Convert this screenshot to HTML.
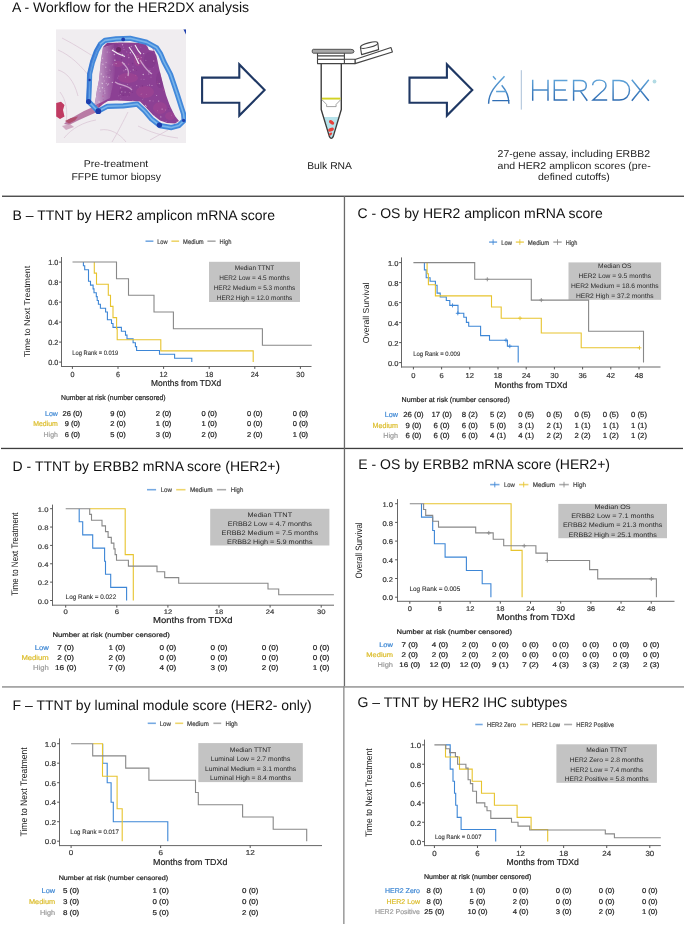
<!DOCTYPE html>
<html><head><meta charset="utf-8"><title>HER2DX figure</title>
<style>html,body{margin:0;padding:0;background:#fff;width:685px;height:925px;overflow:hidden;position:relative;font-family:"Liberation Sans",sans-serif}</style>
</head><body>
<svg width="685" height="925" viewBox="0 0 685 925" style="position:absolute;left:0;top:0;filter:blur(0.3px)" font-family="Liberation Sans, sans-serif" text-rendering="geometricPrecision">
<rect width="685" height="925" fill="#fff"/>
<rect x="2" y="195.6" width="682" height="1.3" fill="#3e3e3e"/>
<rect x="1" y="447.8" width="682" height="1.3" fill="#3e3e3e"/>
<rect x="2" y="686" width="682" height="1.8" fill="#a6a6a6"/>
<rect x="343.8" y="196" width="1.3" height="490" fill="#6a6a6a"/>
<rect x="343.2" y="686" width="1.3" height="238" fill="#8a8a8a"/>
<text x="12.00" y="12.20" font-size="14" fill="#111">A - Workflow for the HER2DX analysis</text>
<defs><filter id="bl1" x="-5%" y="-5%" width="110%" height="110%"><feGaussianBlur stdDeviation="0.7"/></filter><filter id="bl2" x="-5%" y="-5%" width="110%" height="110%"><feGaussianBlur stdDeviation="0.45"/></filter><clipPath id="bclip"><rect x="56" y="29.2" width="130" height="113.8"/></clipPath></defs>
<g clip-path="url(#bclip)">
<rect x="56" y="29.2" width="130" height="113.8" fill="#f0edf0"/>
<g filter="url(#bl1)" fill="none" stroke="#d9c3d3" stroke-width="0.7">
<path d="M58,50 C70,55 82,66 92,80"/>
<path d="M62,38 C74,44 86,52 96,58"/>
<path d="M64,138 C72,128 84,122 96,120"/>
<path d="M112,142 C118,132 124,120 128,112"/>
<path d="M60,92 C66,100 68,110 66,124"/>
<path d="M138,126 C150,132 162,136 178,138"/>
<path d="M58,70 C66,72 74,80 78,96"/>
<path d="M150,140 L168,130"/>
<path d="M100,130 C110,128 120,134 126,142"/>
</g>
<defs><clipPath id="tclip"><path d="M103,47 L107,43 L120,42.6 L134,42.8 L146,43.6 L150,46 L154,50 L156.5,56 L159,68 L162.5,82 L166,95 L170,106 L175,116 L179,121 L175,123.5 L167,123 L160,120.5 L153,115 L146.5,108 L140,101.5 L128,101 L116,100.6 L108,101 L103,104 L98,108.5 L94,107 L95.5,100 L97,90 L99,80 L100,70 L101,60 Z"/></clipPath></defs>
<g filter="url(#bl1)">
<path d="M103,47 L107,43 L120,42.6 L134,42.8 L146,43.6 L150,46 L154,50 L156.5,56 L159,68 L162.5,82 L166,95 L170,106 L175,116 L179,121 L175,123.5 L167,123 L160,120.5 L153,115 L146.5,108 L140,101.5 L128,101 L116,100.6 L108,101 L103,104 L98,108.5 L94,107 L95.5,100 L97,90 L99,80 L100,70 L101,60 Z" fill="#8c4094"/>
<g clip-path="url(#tclip)">
<ellipse cx="100" cy="104" rx="6" ry="4" fill="#a84890" opacity="0.45"/>
<ellipse cx="128" cy="78" rx="10" ry="5" fill="#a84890" opacity="0.45"/>
<ellipse cx="145" cy="92" rx="9" ry="6" fill="#a84890" opacity="0.45"/>
<ellipse cx="160" cy="108" rx="7" ry="6" fill="#a84890" opacity="0.45"/>
<ellipse cx="118" cy="64" rx="5" ry="3" fill="#a84890" opacity="0.45"/>
<ellipse cx="138" cy="60" rx="4" ry="6" fill="#a84890" opacity="0.45"/>
<ellipse cx="170" cy="116" rx="5" ry="4" fill="#a84890" opacity="0.45"/>
<ellipse cx="112" cy="46" rx="8" ry="3" fill="#7b3384" opacity="0.4"/>
<ellipse cx="150" cy="60" rx="6" ry="8" fill="#7b3384" opacity="0.4"/>
<ellipse cx="160" cy="80" rx="4" ry="8" fill="#7b3384" opacity="0.4"/>
<ellipse cx="125" cy="92" rx="6" ry="4" fill="#7b3384" opacity="0.4"/>
<ellipse cx="108" cy="70" rx="4" ry="6" fill="#7b3384" opacity="0.4"/>
<defs><linearGradient id="lil" x1="0" y1="0" x2="1" y2="0"><stop offset="0" stop-color="#cfb0d2" stop-opacity="0.95"/><stop offset="1" stop-color="#cfb0d2" stop-opacity="0"/></linearGradient></defs>
<path d="M94,50 L114,44 L116,60 L114,80 L110,98 L94,106 Z" fill="url(#lil)"/>
<circle cx="122.6" cy="54.4" r="0.63" fill="#efe2ef" opacity="0.6"/>
<circle cx="163.3" cy="49.7" r="0.59" fill="#7a2f80" opacity="0.6"/>
<circle cx="113.6" cy="49.0" r="0.51" fill="#e6cde6" opacity="0.6"/>
<circle cx="103.4" cy="76.8" r="0.71" fill="#efe2ef" opacity="0.6"/>
<circle cx="173.7" cy="93.7" r="0.59" fill="#efe2ef" opacity="0.6"/>
<circle cx="143.3" cy="74.5" r="0.79" fill="#efe2ef" opacity="0.6"/>
<circle cx="141.6" cy="52.9" r="0.51" fill="#7a2f80" opacity="0.6"/>
<circle cx="105.7" cy="67.3" r="0.71" fill="#e6cde6" opacity="0.6"/>
<circle cx="104.5" cy="88.8" r="0.39" fill="#efe2ef" opacity="0.6"/>
<circle cx="140.9" cy="47.1" r="0.33" fill="#e6cde6" opacity="0.6"/>
<circle cx="136.7" cy="85.6" r="0.69" fill="#d9a9d3" opacity="0.6"/>
<circle cx="144.0" cy="79.2" r="0.45" fill="#e6cde6" opacity="0.6"/>
<circle cx="153.3" cy="62.0" r="0.59" fill="#7a2f80" opacity="0.6"/>
<circle cx="136.6" cy="70.2" r="0.52" fill="#7a2f80" opacity="0.6"/>
<circle cx="176.4" cy="51.7" r="0.51" fill="#f4ecf4" opacity="0.6"/>
<circle cx="108.5" cy="82.1" r="0.32" fill="#b75596" opacity="0.6"/>
<circle cx="102.4" cy="87.8" r="0.69" fill="#f4ecf4" opacity="0.6"/>
<circle cx="123.9" cy="70.7" r="0.55" fill="#d9a9d3" opacity="0.6"/>
<circle cx="101.6" cy="49.7" r="0.43" fill="#b75596" opacity="0.6"/>
<circle cx="150.5" cy="47.0" r="0.65" fill="#b75596" opacity="0.6"/>
<circle cx="143.4" cy="97.9" r="0.52" fill="#b75596" opacity="0.6"/>
<circle cx="127.6" cy="96.8" r="0.31" fill="#d9a9d3" opacity="0.6"/>
<circle cx="125.1" cy="92.1" r="0.55" fill="#e6cde6" opacity="0.6"/>
<circle cx="159.0" cy="52.6" r="0.42" fill="#d9a9d3" opacity="0.6"/>
<circle cx="171.2" cy="82.7" r="0.38" fill="#d9a9d3" opacity="0.6"/>
<circle cx="141.1" cy="114.4" r="0.71" fill="#7a2f80" opacity="0.6"/>
<circle cx="118.8" cy="76.1" r="0.48" fill="#d9a9d3" opacity="0.6"/>
<circle cx="174.5" cy="54.4" r="0.39" fill="#e6cde6" opacity="0.6"/>
<circle cx="150.0" cy="43.0" r="0.72" fill="#e6cde6" opacity="0.6"/>
<circle cx="117.5" cy="42.3" r="0.51" fill="#f4ecf4" opacity="0.6"/>
<circle cx="146.0" cy="68.1" r="0.36" fill="#7a2f80" opacity="0.6"/>
<circle cx="173.9" cy="95.7" r="0.67" fill="#d9a9d3" opacity="0.6"/>
<circle cx="169.8" cy="106.0" r="0.74" fill="#7a2f80" opacity="0.6"/>
<circle cx="128.2" cy="74.7" r="0.35" fill="#b75596" opacity="0.6"/>
<circle cx="128.8" cy="57.6" r="0.79" fill="#d9a9d3" opacity="0.6"/>
<circle cx="109.3" cy="69.9" r="0.33" fill="#efe2ef" opacity="0.6"/>
<circle cx="142.5" cy="86.0" r="0.77" fill="#7a2f80" opacity="0.6"/>
<circle cx="98.1" cy="113.7" r="0.61" fill="#e6cde6" opacity="0.6"/>
<circle cx="148.0" cy="120.3" r="0.60" fill="#d9a9d3" opacity="0.6"/>
<circle cx="106.1" cy="111.6" r="0.80" fill="#d9a9d3" opacity="0.6"/>
<circle cx="135.4" cy="67.6" r="0.37" fill="#b75596" opacity="0.6"/>
<circle cx="124.1" cy="63.7" r="0.71" fill="#e6cde6" opacity="0.6"/>
<circle cx="138.3" cy="58.8" r="0.78" fill="#f4ecf4" opacity="0.6"/>
<circle cx="108.0" cy="86.5" r="0.31" fill="#7a2f80" opacity="0.6"/>
<circle cx="120.4" cy="94.7" r="0.35" fill="#f4ecf4" opacity="0.6"/>
<circle cx="138.5" cy="116.5" r="0.48" fill="#e6cde6" opacity="0.6"/>
<circle cx="139.7" cy="105.9" r="0.46" fill="#e6cde6" opacity="0.6"/>
<circle cx="146.3" cy="106.6" r="0.68" fill="#e6cde6" opacity="0.6"/>
<circle cx="162.1" cy="109.1" r="0.67" fill="#e6cde6" opacity="0.6"/>
<circle cx="112.4" cy="82.4" r="0.67" fill="#efe2ef" opacity="0.6"/>
<circle cx="160.8" cy="80.7" r="0.40" fill="#7a2f80" opacity="0.6"/>
<circle cx="174.4" cy="78.7" r="0.77" fill="#f4ecf4" opacity="0.6"/>
<circle cx="174.3" cy="71.9" r="0.41" fill="#e6cde6" opacity="0.6"/>
<circle cx="134.5" cy="69.7" r="0.54" fill="#7a2f80" opacity="0.6"/>
<circle cx="164.9" cy="81.3" r="0.63" fill="#b75596" opacity="0.6"/>
<circle cx="103.0" cy="96.2" r="0.75" fill="#b75596" opacity="0.6"/>
<circle cx="157.5" cy="81.2" r="0.39" fill="#b75596" opacity="0.6"/>
<circle cx="123.3" cy="107.7" r="0.79" fill="#d9a9d3" opacity="0.6"/>
<circle cx="134.0" cy="103.0" r="0.34" fill="#e6cde6" opacity="0.6"/>
<circle cx="109.9" cy="52.4" r="0.38" fill="#d9a9d3" opacity="0.6"/>
<circle cx="162.1" cy="54.0" r="0.71" fill="#d9a9d3" opacity="0.6"/>
<circle cx="149.9" cy="70.7" r="0.57" fill="#e6cde6" opacity="0.6"/>
<circle cx="97.8" cy="107.5" r="0.66" fill="#efe2ef" opacity="0.6"/>
<circle cx="139.2" cy="118.6" r="0.52" fill="#e6cde6" opacity="0.6"/>
<circle cx="163.7" cy="59.3" r="0.43" fill="#f4ecf4" opacity="0.6"/>
<circle cx="137.1" cy="104.6" r="0.46" fill="#7a2f80" opacity="0.6"/>
<circle cx="130.4" cy="52.7" r="0.76" fill="#f4ecf4" opacity="0.6"/>
<circle cx="169.6" cy="96.3" r="0.71" fill="#7a2f80" opacity="0.6"/>
<circle cx="130.5" cy="117.3" r="0.55" fill="#7a2f80" opacity="0.6"/>
<circle cx="108.5" cy="83.9" r="0.74" fill="#e6cde6" opacity="0.6"/>
<circle cx="145.9" cy="105.6" r="0.37" fill="#e6cde6" opacity="0.6"/>
<circle cx="134.8" cy="101.5" r="0.58" fill="#f4ecf4" opacity="0.6"/>
<circle cx="152.0" cy="85.5" r="0.54" fill="#efe2ef" opacity="0.6"/>
<circle cx="168.4" cy="46.7" r="0.40" fill="#efe2ef" opacity="0.6"/>
<circle cx="159.3" cy="83.6" r="0.58" fill="#efe2ef" opacity="0.6"/>
<circle cx="132.3" cy="92.2" r="0.55" fill="#7a2f80" opacity="0.6"/>
<circle cx="112.4" cy="64.7" r="0.55" fill="#d9a9d3" opacity="0.6"/>
<circle cx="137.6" cy="62.3" r="0.56" fill="#f4ecf4" opacity="0.6"/>
<circle cx="171.7" cy="115.2" r="0.40" fill="#d9a9d3" opacity="0.6"/>
<circle cx="107.2" cy="52.0" r="0.52" fill="#efe2ef" opacity="0.6"/>
<circle cx="151.0" cy="77.1" r="0.41" fill="#f4ecf4" opacity="0.6"/>
<circle cx="160.3" cy="115.6" r="0.38" fill="#b75596" opacity="0.6"/>
<circle cx="148.8" cy="72.0" r="0.43" fill="#e6cde6" opacity="0.6"/>
<circle cx="175.3" cy="60.0" r="0.78" fill="#d9a9d3" opacity="0.6"/>
<circle cx="168.6" cy="55.3" r="0.63" fill="#e6cde6" opacity="0.6"/>
<circle cx="109.2" cy="77.4" r="0.56" fill="#f4ecf4" opacity="0.6"/>
<circle cx="130.5" cy="71.2" r="0.35" fill="#f4ecf4" opacity="0.6"/>
<circle cx="97.6" cy="87.4" r="0.52" fill="#efe2ef" opacity="0.6"/>
<circle cx="127.5" cy="84.4" r="0.45" fill="#efe2ef" opacity="0.6"/>
<circle cx="105.3" cy="117.3" r="0.41" fill="#efe2ef" opacity="0.6"/>
<circle cx="102.9" cy="64.3" r="0.75" fill="#e6cde6" opacity="0.6"/>
<circle cx="118.2" cy="52.6" r="0.51" fill="#b75596" opacity="0.6"/>
<circle cx="163.2" cy="63.2" r="0.37" fill="#7a2f80" opacity="0.6"/>
<circle cx="142.8" cy="99.4" r="0.34" fill="#efe2ef" opacity="0.6"/>
<circle cx="161.6" cy="57.0" r="0.75" fill="#f4ecf4" opacity="0.6"/>
<circle cx="172.9" cy="94.0" r="0.70" fill="#efe2ef" opacity="0.6"/>
<circle cx="145.9" cy="60.2" r="0.43" fill="#efe2ef" opacity="0.6"/>
<circle cx="133.2" cy="69.8" r="0.58" fill="#f4ecf4" opacity="0.6"/>
<circle cx="147.0" cy="45.5" r="0.65" fill="#efe2ef" opacity="0.6"/>
<circle cx="175.5" cy="63.5" r="0.39" fill="#f4ecf4" opacity="0.6"/>
<circle cx="147.6" cy="85.5" r="0.40" fill="#d9a9d3" opacity="0.6"/>
<circle cx="137.0" cy="56.6" r="0.47" fill="#efe2ef" opacity="0.6"/>
<circle cx="177.5" cy="45.0" r="0.31" fill="#7a2f80" opacity="0.6"/>
<circle cx="141.2" cy="57.5" r="0.54" fill="#d9a9d3" opacity="0.6"/>
<circle cx="104.7" cy="109.2" r="0.52" fill="#d9a9d3" opacity="0.6"/>
<circle cx="140.8" cy="114.9" r="0.79" fill="#f4ecf4" opacity="0.6"/>
<circle cx="152.4" cy="122.6" r="0.47" fill="#b75596" opacity="0.6"/>
<circle cx="155.8" cy="53.5" r="0.79" fill="#efe2ef" opacity="0.6"/>
<circle cx="164.6" cy="43.2" r="0.61" fill="#f4ecf4" opacity="0.6"/>
<circle cx="131.3" cy="46.5" r="0.63" fill="#d9a9d3" opacity="0.6"/>
<circle cx="167.4" cy="97.0" r="0.44" fill="#e6cde6" opacity="0.6"/>
<circle cx="152.8" cy="45.7" r="0.39" fill="#f4ecf4" opacity="0.6"/>
<circle cx="132.6" cy="63.6" r="0.78" fill="#7a2f80" opacity="0.6"/>
<circle cx="122.5" cy="44.8" r="0.74" fill="#e6cde6" opacity="0.6"/>
<circle cx="125.2" cy="42.1" r="0.49" fill="#d9a9d3" opacity="0.6"/>
<circle cx="118.9" cy="95.8" r="0.42" fill="#efe2ef" opacity="0.6"/>
<circle cx="103.4" cy="109.0" r="0.37" fill="#7a2f80" opacity="0.6"/>
<circle cx="99.4" cy="43.8" r="0.45" fill="#e6cde6" opacity="0.6"/>
<circle cx="102.9" cy="120.5" r="0.73" fill="#e6cde6" opacity="0.6"/>
<circle cx="149.9" cy="100.7" r="0.74" fill="#d9a9d3" opacity="0.6"/>
<circle cx="158.7" cy="101.1" r="0.55" fill="#f4ecf4" opacity="0.6"/>
<circle cx="155.4" cy="94.7" r="0.32" fill="#b75596" opacity="0.6"/>
<circle cx="169.1" cy="93.4" r="0.67" fill="#7a2f80" opacity="0.6"/>
<circle cx="107.4" cy="84.9" r="0.55" fill="#efe2ef" opacity="0.6"/>
<circle cx="163.8" cy="89.9" r="0.75" fill="#b75596" opacity="0.6"/>
<circle cx="174.4" cy="94.7" r="0.34" fill="#efe2ef" opacity="0.6"/>
<circle cx="106.9" cy="71.6" r="0.35" fill="#d9a9d3" opacity="0.6"/>
<circle cx="141.8" cy="93.5" r="0.61" fill="#b75596" opacity="0.6"/>
<circle cx="116.1" cy="63.6" r="0.53" fill="#efe2ef" opacity="0.6"/>
<circle cx="157.4" cy="83.2" r="0.57" fill="#b75596" opacity="0.6"/>
<circle cx="139.1" cy="103.1" r="0.54" fill="#efe2ef" opacity="0.6"/>
<circle cx="165.4" cy="61.3" r="0.68" fill="#e6cde6" opacity="0.6"/>
<circle cx="156.7" cy="122.0" r="0.55" fill="#d9a9d3" opacity="0.6"/>
<circle cx="102.3" cy="116.7" r="0.44" fill="#efe2ef" opacity="0.6"/>
<circle cx="146.6" cy="94.7" r="0.34" fill="#e6cde6" opacity="0.6"/>
<circle cx="123.2" cy="95.4" r="0.65" fill="#7a2f80" opacity="0.6"/>
<circle cx="142.6" cy="43.0" r="0.33" fill="#f4ecf4" opacity="0.6"/>
<circle cx="175.7" cy="50.2" r="0.41" fill="#d9a9d3" opacity="0.6"/>
<circle cx="119.9" cy="84.4" r="0.53" fill="#d9a9d3" opacity="0.6"/>
<circle cx="158.9" cy="123.5" r="0.57" fill="#f4ecf4" opacity="0.6"/>
<circle cx="176.2" cy="118.8" r="0.31" fill="#d9a9d3" opacity="0.6"/>
<circle cx="102.3" cy="83.5" r="0.80" fill="#f4ecf4" opacity="0.6"/>
<circle cx="127.7" cy="117.2" r="0.77" fill="#efe2ef" opacity="0.6"/>
<circle cx="143.7" cy="53.6" r="0.56" fill="#f4ecf4" opacity="0.6"/>
<circle cx="106.9" cy="109.3" r="0.55" fill="#efe2ef" opacity="0.6"/>
<circle cx="153.7" cy="61.0" r="0.75" fill="#d9a9d3" opacity="0.6"/>
<circle cx="128.3" cy="55.0" r="0.77" fill="#b75596" opacity="0.6"/>
<circle cx="133.0" cy="66.8" r="0.37" fill="#f4ecf4" opacity="0.6"/>
<circle cx="126.8" cy="51.9" r="0.47" fill="#f4ecf4" opacity="0.6"/>
<circle cx="157.6" cy="110.8" r="0.36" fill="#e6cde6" opacity="0.6"/>
<circle cx="154.5" cy="115.9" r="0.44" fill="#f4ecf4" opacity="0.6"/>
<circle cx="101.3" cy="74.0" r="0.73" fill="#efe2ef" opacity="0.6"/>
<circle cx="125.6" cy="77.1" r="0.44" fill="#efe2ef" opacity="0.6"/>
<circle cx="119.0" cy="46.2" r="0.63" fill="#b75596" opacity="0.6"/>
<circle cx="172.7" cy="62.4" r="0.43" fill="#7a2f80" opacity="0.6"/>
<circle cx="121.9" cy="105.4" r="0.69" fill="#d9a9d3" opacity="0.6"/>
<circle cx="168.5" cy="108.6" r="0.62" fill="#7a2f80" opacity="0.6"/>
<circle cx="141.0" cy="101.0" r="0.32" fill="#b75596" opacity="0.6"/>
<circle cx="129.7" cy="92.4" r="0.37" fill="#f4ecf4" opacity="0.6"/>
<circle cx="135.8" cy="116.8" r="0.58" fill="#e6cde6" opacity="0.6"/>
<circle cx="134.7" cy="70.2" r="0.45" fill="#b75596" opacity="0.6"/>
<circle cx="156.6" cy="95.5" r="0.50" fill="#e6cde6" opacity="0.6"/>
<circle cx="120.7" cy="87.7" r="0.50" fill="#e6cde6" opacity="0.6"/>
<circle cx="148.7" cy="48.2" r="0.55" fill="#d9a9d3" opacity="0.6"/>
<circle cx="141.1" cy="79.1" r="0.47" fill="#d9a9d3" opacity="0.6"/>
<circle cx="131.0" cy="86.9" r="0.42" fill="#e6cde6" opacity="0.6"/>
<circle cx="124.0" cy="49.5" r="0.42" fill="#f4ecf4" opacity="0.6"/>
<circle cx="162.4" cy="58.6" r="0.31" fill="#d9a9d3" opacity="0.6"/>
<circle cx="127.4" cy="103.2" r="0.41" fill="#f4ecf4" opacity="0.6"/>
<circle cx="123.7" cy="47.1" r="0.44" fill="#f4ecf4" opacity="0.6"/>
<circle cx="106.3" cy="83.3" r="0.61" fill="#e6cde6" opacity="0.6"/>
<circle cx="103.6" cy="115.5" r="0.49" fill="#b75596" opacity="0.6"/>
<circle cx="132.6" cy="120.2" r="0.72" fill="#efe2ef" opacity="0.6"/>
<circle cx="106.4" cy="76.9" r="0.68" fill="#d9a9d3" opacity="0.6"/>
<circle cx="175.4" cy="82.2" r="0.34" fill="#7a2f80" opacity="0.6"/>
<circle cx="166.1" cy="121.7" r="0.42" fill="#efe2ef" opacity="0.6"/>
<circle cx="114.4" cy="54.5" r="0.79" fill="#efe2ef" opacity="0.6"/>
<circle cx="173.2" cy="101.2" r="0.62" fill="#d9a9d3" opacity="0.6"/>
<circle cx="103.0" cy="105.7" r="0.30" fill="#e6cde6" opacity="0.6"/>
<circle cx="115.1" cy="117.4" r="0.62" fill="#f4ecf4" opacity="0.6"/>
<circle cx="174.9" cy="93.4" r="0.56" fill="#d9a9d3" opacity="0.6"/>
<circle cx="153.3" cy="51.2" r="0.34" fill="#7a2f80" opacity="0.6"/>
<circle cx="173.4" cy="57.7" r="0.43" fill="#7a2f80" opacity="0.6"/>
<circle cx="96.1" cy="86.1" r="0.80" fill="#f4ecf4" opacity="0.6"/>
<circle cx="174.6" cy="94.9" r="0.74" fill="#d9a9d3" opacity="0.6"/>
<circle cx="139.2" cy="86.9" r="0.31" fill="#d9a9d3" opacity="0.6"/>
<circle cx="153.8" cy="67.2" r="0.31" fill="#d9a9d3" opacity="0.6"/>
<circle cx="168.6" cy="95.1" r="0.34" fill="#e6cde6" opacity="0.6"/>
<circle cx="150.7" cy="117.9" r="0.41" fill="#efe2ef" opacity="0.6"/>
<circle cx="153.1" cy="100.9" r="0.48" fill="#d9a9d3" opacity="0.6"/>
<circle cx="112.2" cy="107.4" r="0.67" fill="#7a2f80" opacity="0.6"/>
<circle cx="101.5" cy="82.6" r="0.40" fill="#e6cde6" opacity="0.6"/>
<circle cx="114.9" cy="60.2" r="0.68" fill="#f4ecf4" opacity="0.6"/>
<circle cx="104.9" cy="93.1" r="0.61" fill="#e6cde6" opacity="0.6"/>
<circle cx="135.8" cy="116.7" r="0.33" fill="#7a2f80" opacity="0.6"/>
<circle cx="108.0" cy="74.3" r="0.41" fill="#7a2f80" opacity="0.6"/>
<circle cx="107.6" cy="46.3" r="0.33" fill="#d9a9d3" opacity="0.6"/>
<circle cx="132.9" cy="100.4" r="0.46" fill="#efe2ef" opacity="0.6"/>
<circle cx="177.8" cy="118.4" r="0.46" fill="#e6cde6" opacity="0.6"/>
<circle cx="149.5" cy="85.0" r="0.53" fill="#f4ecf4" opacity="0.6"/>
<circle cx="150.5" cy="73.0" r="0.49" fill="#f4ecf4" opacity="0.6"/>
<circle cx="132.3" cy="50.9" r="0.34" fill="#efe2ef" opacity="0.6"/>
<circle cx="124.8" cy="120.4" r="0.36" fill="#e6cde6" opacity="0.6"/>
<circle cx="127.2" cy="105.0" r="0.45" fill="#d9a9d3" opacity="0.6"/>
<circle cx="103.2" cy="99.8" r="0.40" fill="#7a2f80" opacity="0.6"/>
<circle cx="171.4" cy="57.8" r="0.48" fill="#d9a9d3" opacity="0.6"/>
<circle cx="98.5" cy="75.7" r="0.71" fill="#d9a9d3" opacity="0.6"/>
<circle cx="99.3" cy="44.9" r="0.33" fill="#efe2ef" opacity="0.6"/>
<circle cx="117.1" cy="103.3" r="0.75" fill="#f4ecf4" opacity="0.6"/>
<circle cx="125.8" cy="69.5" r="0.78" fill="#efe2ef" opacity="0.6"/>
<circle cx="117.5" cy="100.8" r="0.46" fill="#f4ecf4" opacity="0.6"/>
<circle cx="120.4" cy="101.2" r="0.60" fill="#b75596" opacity="0.6"/>
<circle cx="173.6" cy="47.4" r="0.71" fill="#efe2ef" opacity="0.6"/>
<circle cx="135.0" cy="120.5" r="0.78" fill="#d9a9d3" opacity="0.6"/>
<circle cx="160.8" cy="116.9" r="0.71" fill="#e6cde6" opacity="0.6"/>
<circle cx="172.1" cy="57.0" r="0.70" fill="#b75596" opacity="0.6"/>
<circle cx="120.9" cy="98.8" r="0.38" fill="#e6cde6" opacity="0.6"/>
<circle cx="122.9" cy="68.2" r="0.48" fill="#7a2f80" opacity="0.6"/>
<circle cx="102.5" cy="58.2" r="0.68" fill="#e6cde6" opacity="0.6"/>
<circle cx="129.4" cy="95.3" r="0.54" fill="#7a2f80" opacity="0.6"/>
<circle cx="122.7" cy="122.4" r="0.74" fill="#efe2ef" opacity="0.6"/>
<circle cx="117.7" cy="48.9" r="0.35" fill="#d9a9d3" opacity="0.6"/>
<circle cx="177.1" cy="121.7" r="0.39" fill="#e6cde6" opacity="0.6"/>
<circle cx="130.2" cy="92.9" r="0.64" fill="#b75596" opacity="0.6"/>
<circle cx="140.2" cy="105.5" r="0.68" fill="#f4ecf4" opacity="0.6"/>
<circle cx="120.1" cy="88.5" r="0.49" fill="#b75596" opacity="0.6"/>
<circle cx="117.3" cy="78.0" r="0.39" fill="#e6cde6" opacity="0.6"/>
<circle cx="108.6" cy="114.5" r="0.59" fill="#f4ecf4" opacity="0.6"/>
<circle cx="101.3" cy="62.6" r="0.42" fill="#7a2f80" opacity="0.6"/>
<circle cx="115.0" cy="108.3" r="0.63" fill="#efe2ef" opacity="0.6"/>
<circle cx="104.4" cy="80.9" r="0.71" fill="#d9a9d3" opacity="0.6"/>
<circle cx="171.0" cy="45.3" r="0.45" fill="#efe2ef" opacity="0.6"/>
<circle cx="100.1" cy="91.2" r="0.71" fill="#e6cde6" opacity="0.6"/>
<circle cx="172.3" cy="72.5" r="0.73" fill="#d9a9d3" opacity="0.6"/>
<circle cx="145.4" cy="105.5" r="0.63" fill="#efe2ef" opacity="0.6"/>
<circle cx="104.7" cy="90.9" r="0.61" fill="#e6cde6" opacity="0.6"/>
<circle cx="99.1" cy="69.9" r="0.32" fill="#f4ecf4" opacity="0.6"/>
<circle cx="99.1" cy="102.0" r="0.76" fill="#efe2ef" opacity="0.6"/>
<circle cx="163.1" cy="75.5" r="0.49" fill="#7a2f80" opacity="0.6"/>
<circle cx="121.6" cy="58.7" r="0.70" fill="#7a2f80" opacity="0.6"/>
<circle cx="135.6" cy="75.5" r="0.70" fill="#b75596" opacity="0.6"/>
<circle cx="141.1" cy="94.4" r="0.35" fill="#e6cde6" opacity="0.6"/>
<circle cx="128.6" cy="64.2" r="0.79" fill="#b75596" opacity="0.6"/>
<circle cx="121.2" cy="120.2" r="0.46" fill="#7a2f80" opacity="0.6"/>
<circle cx="168.5" cy="76.0" r="0.31" fill="#f4ecf4" opacity="0.6"/>
<circle cx="148.8" cy="74.0" r="0.50" fill="#efe2ef" opacity="0.6"/>
<circle cx="131.6" cy="54.8" r="0.36" fill="#efe2ef" opacity="0.6"/>
<circle cx="129.3" cy="114.4" r="0.53" fill="#e6cde6" opacity="0.6"/>
<circle cx="106.7" cy="46.2" r="0.37" fill="#d9a9d3" opacity="0.6"/>
<circle cx="103.3" cy="93.0" r="0.49" fill="#7a2f80" opacity="0.6"/>
<circle cx="110.1" cy="70.5" r="0.38" fill="#e6cde6" opacity="0.6"/>
<circle cx="171.9" cy="50.9" r="0.55" fill="#e6cde6" opacity="0.6"/>
<circle cx="120.7" cy="110.7" r="0.32" fill="#d9a9d3" opacity="0.6"/>
<circle cx="121.8" cy="91.8" r="0.62" fill="#efe2ef" opacity="0.6"/>
<circle cx="170.1" cy="92.9" r="0.71" fill="#e6cde6" opacity="0.6"/>
<circle cx="148.5" cy="112.2" r="0.61" fill="#7a2f80" opacity="0.6"/>
<circle cx="165.4" cy="110.0" r="0.39" fill="#e6cde6" opacity="0.6"/>
<circle cx="99.4" cy="119.0" r="0.38" fill="#f4ecf4" opacity="0.6"/>
<circle cx="106.1" cy="62.3" r="0.66" fill="#e6cde6" opacity="0.6"/>
<circle cx="99.4" cy="88.1" r="0.68" fill="#efe2ef" opacity="0.6"/>
</g>
<path d="M146,43.6 L151,46.5 L154,51 L149,50 Z" fill="#f3eef3"/>
<circle cx="118.6" cy="49.6" r="2.6" fill="#6b2a6a"/>
<path d="M112,50 C116,53 120,55 125,56.5 M129,47 C133,52 136,57 139,64 M135,45 C137,49 139,52 141,54" fill="none" stroke="#f4eef4" stroke-width="1.1"/>
<path d="M115,82 C120,86 126,84 132,90 M122,62 C126,66 130,70 128,76 M140,60 C144,66 146,70 152,74" fill="none" stroke="#d7b4d6" stroke-width="1.3" opacity="0.8"/>
<path d="M99,104 L92,107.5 L84,111 L76,115.5 L68,120 L64,124 L69,125 L78,120.5 L88,116 L97,112 Z" fill="#b36f9c" opacity="0.9"/>
<path d="M62,126 L70,124 L74,127 L66,130 Z" fill="#c99ab8" opacity="0.8"/>
<path d="M56.2,103 L61,101.8 L64.5,105 L63,110 L64.5,116.5 L60,119 L56.2,116.5 Z" fill="#c03a62"/>
<path d="M65,121 L71,118 L78,116.5 L75,120.5 L69,123.5 Z" fill="#b0506e"/>
</g>
<g filter="url(#bl2)"><path d="M89.3,86 L89.6,74 L92.5,62 L96.5,51 L100.5,44 L105,40.4 L116,38.9 L130,38.3 L146.9,42.4 L156.5,47.8 L160.6,54 L164,62 L170.5,74.4 L174.5,86 L177.5,95 L181,106 L183.6,114 L184.2,120.4 L179,125.4 L171.5,127.6 L160,125.6 L151.5,119 L144.3,110.6 L137.3,104.1 L123.3,105.8 L107.5,106.3 L98,111.2 L92,105 L88.6,101.6 Z" fill="none" stroke="#4388da" stroke-width="5.2" stroke-linejoin="round"/>
<path d="M89.3,86 L89.6,74 L92.5,62 L96.5,51 L100.5,44 L105,40.4 L116,38.9 L130,38.3 L146.9,42.4 L156.5,47.8 L160.6,54 L164,62 L170.5,74.4 L174.5,86 L177.5,95 L181,106 L183.6,114 L184.2,120.4 L179,125.4 L171.5,127.6 L160,125.6 L151.5,119 L144.3,110.6 L137.3,104.1 L123.3,105.8 L107.5,106.3 L98,111.2 L92,105 L88.6,101.6 Z" fill="none" stroke="#8ac3ef" stroke-width="1.6" stroke-linejoin="round" opacity="0.75"/>
<path d="M88.4,100 L89.3,86 L89.6,74 L92.5,62 L96.5,51 L100.5,44" fill="none" stroke="#2c68cc" stroke-width="2.6" opacity="0.55" transform="translate(-0.9,0)"/>
<circle cx="88.6" cy="101.6" r="2.6" fill="#1c3cad"/>
<circle cx="98.3" cy="111.2" r="2.9" fill="#1c3cad"/>
<circle cx="159.4" cy="125.1" r="2.7" fill="#1c3cad"/>
<circle cx="183.6" cy="120.4" r="1.6" fill="#1c3cad"/>
<circle cx="123.2" cy="39.4" r="1.9" fill="#1c3cad"/>
<circle cx="89.6" cy="80" r="1.2" fill="#1c3cad"/>
</g>
<path d="M183.4,29.2 L186,29.2 L186,34.5 Z" fill="#1d3fae"/>
</g>
<path d="M202.1,77.6 H239.3 V64.4 L264.6,90.1 L239.3,115.6 V102.8 H202.1 Z" fill="none" stroke="#1f3864" stroke-width="2.1" stroke-linejoin="miter"/>
<path d="M409.5,77.6 H446.9 V64.4 L472.3,90.1 L446.9,115.6 V102.8 H409.5 Z" fill="none" stroke="#1f3864" stroke-width="2.1" stroke-linejoin="miter"/>
<g stroke="#3a3a3a" stroke-width="1.35" fill="#fff" stroke-linejoin="round">
<path d="M323.5,117 L339.1,117 L333.0,136.6 Q331.3,139.6 329.6,136.6 Z" fill="#b6e2ea" stroke="none"/>
<path d="M321.2,63.6 V109.5 L329.4,136.6 Q331.3,140.2 333.2,136.6 L341.3,109.5 V63.6" fill="none"/>
</g>
<line x1="321.9" y1="98.6" x2="340.6" y2="98.6" stroke="#d2d224" stroke-width="1.9"/>
<path d="M322,99.8 L326.6,104.4 V106.6 H336.1 V104.4 L340.6,99.8" fill="none" stroke="#8a8a8a" stroke-width="0.8"/>
<ellipse cx="331.6" cy="122.4" rx="3.0" ry="1.8" transform="rotate(35 331.6 122.4)" fill="#e8413a"/>
<ellipse cx="331.0" cy="129.6" rx="3.0" ry="1.8" transform="rotate(-20 331.0 129.6)" fill="#e8413a"/>
<ellipse cx="330.5" cy="134.0" rx="1.9" ry="1.2" transform="rotate(-40 330.5 134.0)" fill="#e8413a"/>
<g stroke="#444" stroke-width="1.1" fill="#fff" stroke-linejoin="round">
<path d="M355,59.6 L391,47.6 L392.4,52.0 L355,63.6 Z"/>
<path d="M360.4,47.2 L361.6,54.6 L378.6,49.6 L377.8,43.0 Z"/>
<ellipse cx="369.1" cy="45.1" rx="8.9" ry="2.3" transform="rotate(-15 369.1 45.1)"/>
<rect x="317.5" y="59.3" width="37.5" height="4.3"/>
<line x1="344.4" y1="59.3" x2="344.4" y2="63.6"/>
<rect x="317.5" y="52.8" width="26.9" height="3.25"/>
<rect x="317.5" y="56.05" width="26.9" height="3.25"/>
<path d="M313.2,49.3 H350.8 Q354,49.3 354,51.4 Q354,53.2 351.6,53.2 H313.2 Q312.2,53.2 312.2,51.2 Q312.2,49.3 313.2,49.3 Z" fill="#a8a8a8" stroke="#444" stroke-width="0.9"/>
</g>
<defs><linearGradient id="lg" x1="0" y1="0" x2="0" y2="1"><stop offset="0" stop-color="#5ea2d8"/><stop offset="1" stop-color="#2f6db3"/></linearGradient></defs>
<g fill="none" stroke="url(#lg)" stroke-width="1.45" stroke-linecap="butt">
<path d="M504.5,76.3 C497,84 488.6,92 488.6,103.8"/>
<path d="M493,76.3 L495.8,79.5 M501.7,85.2 C505.5,89.5 509,95 508.9,103.8"/>
<path d="M496.1,91.5 H506.2 M492.3,100.6 H509.4"/>
<path d="M532.7,79.7 V100.7 M548,79.7 V100.7 M532.7,90 H548"/>
<path d="M567.4,80.4 H554.3 V100 H567.4 M554.3,90 H565.9"/>
<path d="M573.6,100.7 V80.4 H580 C584.3,80.4 586.3,82.6 586.3,85.6 C586.3,88.6 584.3,90.9 580,90.9 H573.6 M580.2,90.9 L587.3,100.7"/>
<path d="M592.6,85.3 C592.8,82 595.5,80.1 599.4,80.1 C603.5,80.1 606,82.4 606,85.4 C606,88.2 604.3,89.8 601.5,92 L593,99.9 H607.2"/>
<path d="M613.1,80.4 V100 H619.2 C625.8,100 629.5,95.8 629.5,90.2 C629.5,84.6 625.8,80.4 619.2,80.4 Z"/>
<path d="M631.8,79.7 L648.8,100.7 M648.8,79.7 L631.8,100.7"/>
</g>
<line x1="521.3" y1="70.2" x2="521.3" y2="109.6" stroke="#9fb8d2" stroke-width="0.9"/>
<circle cx="654.5" cy="81.5" r="1.9" fill="#b2dbe4"/>
<text x="116.00" y="167.30" font-size="9.9" fill="#222" text-anchor="middle" textLength="64.4" lengthAdjust="spacingAndGlyphs">Pre-treatment</text>
<text x="116.20" y="180.00" font-size="9.9" fill="#222" text-anchor="middle" textLength="89.6" lengthAdjust="spacingAndGlyphs">FFPE tumor biopsy</text>
<text x="329.60" y="169.30" font-size="9.9" fill="#222" text-anchor="middle" textLength="44.8" lengthAdjust="spacingAndGlyphs">Bulk RNA</text>
<text x="573.80" y="156.80" font-size="9.9" fill="#222" text-anchor="middle" textLength="152.4" lengthAdjust="spacingAndGlyphs">27-gene assay, including ERBB2</text>
<text x="574.10" y="168.50" font-size="9.9" fill="#222" text-anchor="middle" textLength="153.1" lengthAdjust="spacingAndGlyphs">and HER2 amplicon scores (pre-</text>
<text x="573.85" y="179.70" font-size="9.9" fill="#222" text-anchor="middle" textLength="71.8" lengthAdjust="spacingAndGlyphs">defined cutoffs)</text>
<text x="12.60" y="220.00" font-size="14" fill="#111">B – TTNT by HER2 amplicon mRNA score</text>
<line x1="145.50" y1="241.20" x2="153.40" y2="241.20" stroke="#3d86d6" stroke-width="1.6" opacity="0.7"/>
<text x="157.20" y="244.00" font-size="6.6" fill="#444" stroke="#444" stroke-width="0.2" textLength="10.4" lengthAdjust="spacingAndGlyphs">Low</text>
<line x1="171.40" y1="241.20" x2="179.10" y2="241.20" stroke="#e7c42e" stroke-width="1.6" opacity="0.7"/>
<text x="183.10" y="244.00" font-size="6.6" fill="#444" stroke="#444" stroke-width="0.2" textLength="20.6" lengthAdjust="spacingAndGlyphs">Medium</text>
<line x1="207.40" y1="241.20" x2="215.60" y2="241.20" stroke="#888888" stroke-width="1.6" opacity="0.7"/>
<text x="219.60" y="244.00" font-size="6.6" fill="#444" stroke="#444" stroke-width="0.2" textLength="11.8" lengthAdjust="spacingAndGlyphs">High</text>
<line x1="61.50" y1="257.00" x2="61.50" y2="367.00" stroke="#666666" stroke-width="1.0"/>
<line x1="61.00" y1="366.50" x2="311.50" y2="366.50" stroke="#666666" stroke-width="1.0"/>
<line x1="59.10" y1="362.10" x2="61.50" y2="362.10" stroke="#555" stroke-width="1.0"/>
<text x="58.40" y="365.46" font-size="7.4" fill="#3a3a3a" stroke="#3a3a3a" stroke-width="0.2" text-anchor="end" textLength="10.1" lengthAdjust="spacingAndGlyphs">0.0</text>
<line x1="59.10" y1="342.10" x2="61.50" y2="342.10" stroke="#555" stroke-width="1.0"/>
<text x="58.40" y="345.46" font-size="7.4" fill="#3a3a3a" stroke="#3a3a3a" stroke-width="0.2" text-anchor="end" textLength="10.1" lengthAdjust="spacingAndGlyphs">0.2</text>
<line x1="59.10" y1="322.10" x2="61.50" y2="322.10" stroke="#555" stroke-width="1.0"/>
<text x="58.40" y="325.46" font-size="7.4" fill="#3a3a3a" stroke="#3a3a3a" stroke-width="0.2" text-anchor="end" textLength="10.1" lengthAdjust="spacingAndGlyphs">0.4</text>
<line x1="59.10" y1="302.10" x2="61.50" y2="302.10" stroke="#555" stroke-width="1.0"/>
<text x="58.40" y="305.46" font-size="7.4" fill="#3a3a3a" stroke="#3a3a3a" stroke-width="0.2" text-anchor="end" textLength="10.1" lengthAdjust="spacingAndGlyphs">0.6</text>
<line x1="59.10" y1="282.10" x2="61.50" y2="282.10" stroke="#555" stroke-width="1.0"/>
<text x="58.40" y="285.46" font-size="7.4" fill="#3a3a3a" stroke="#3a3a3a" stroke-width="0.2" text-anchor="end" textLength="10.1" lengthAdjust="spacingAndGlyphs">0.8</text>
<line x1="59.10" y1="262.10" x2="61.50" y2="262.10" stroke="#555" stroke-width="1.0"/>
<text x="58.40" y="265.46" font-size="7.4" fill="#3a3a3a" stroke="#3a3a3a" stroke-width="0.2" text-anchor="end" textLength="10.1" lengthAdjust="spacingAndGlyphs">1.0</text>
<line x1="72.40" y1="366.50" x2="72.40" y2="368.90" stroke="#555" stroke-width="1.0"/>
<text x="72.40" y="376.70" font-size="7.4" fill="#3a3a3a" stroke="#3a3a3a" stroke-width="0.2" text-anchor="middle" textLength="4.0" lengthAdjust="spacingAndGlyphs">0</text>
<line x1="118.00" y1="366.50" x2="118.00" y2="368.90" stroke="#555" stroke-width="1.0"/>
<text x="118.00" y="376.70" font-size="7.4" fill="#3a3a3a" stroke="#3a3a3a" stroke-width="0.2" text-anchor="middle" textLength="4.0" lengthAdjust="spacingAndGlyphs">6</text>
<line x1="163.60" y1="366.50" x2="163.60" y2="368.90" stroke="#555" stroke-width="1.0"/>
<text x="163.60" y="376.70" font-size="7.4" fill="#3a3a3a" stroke="#3a3a3a" stroke-width="0.2" text-anchor="middle" textLength="8.1" lengthAdjust="spacingAndGlyphs">12</text>
<line x1="209.20" y1="366.50" x2="209.20" y2="368.90" stroke="#555" stroke-width="1.0"/>
<text x="209.20" y="376.70" font-size="7.4" fill="#3a3a3a" stroke="#3a3a3a" stroke-width="0.2" text-anchor="middle" textLength="8.1" lengthAdjust="spacingAndGlyphs">18</text>
<line x1="254.80" y1="366.50" x2="254.80" y2="368.90" stroke="#555" stroke-width="1.0"/>
<text x="254.80" y="376.70" font-size="7.4" fill="#3a3a3a" stroke="#3a3a3a" stroke-width="0.2" text-anchor="middle" textLength="8.1" lengthAdjust="spacingAndGlyphs">24</text>
<line x1="300.40" y1="366.50" x2="300.40" y2="368.90" stroke="#555" stroke-width="1.0"/>
<text x="300.40" y="376.70" font-size="7.4" fill="#3a3a3a" stroke="#3a3a3a" stroke-width="0.2" text-anchor="middle" textLength="8.1" lengthAdjust="spacingAndGlyphs">30</text>
<text transform="translate(30.05,311.60) scale(0.95,1) rotate(-90)" x="0" y="0" font-size="8.8" fill="#222" text-anchor="middle" textLength="91.4" lengthAdjust="spacingAndGlyphs">Time to Next Treatment</text>
<text x="186.20" y="386.40" font-size="8.7" fill="#222" stroke="#222" stroke-width="0.2" text-anchor="middle" textLength="70.2" lengthAdjust="spacingAndGlyphs">Months from TDXd</text>
<rect x="209.00" y="261.80" width="91.00" height="40.20" fill="#c3c3c3"/>
<text x="254.50" y="270.20" font-size="6.6" fill="#2a2a2a" text-anchor="middle" textLength="39.5" lengthAdjust="spacingAndGlyphs">Median TTNT</text>
<text x="254.50" y="280.00" font-size="6.6" fill="#2a2a2a" text-anchor="middle" textLength="70.4" lengthAdjust="spacingAndGlyphs">HER2 Low = 4.5 months</text>
<text x="254.50" y="290.10" font-size="6.6" fill="#2a2a2a" text-anchor="middle" textLength="81.6" lengthAdjust="spacingAndGlyphs">HER2 Medium = 5.3 months</text>
<text x="254.50" y="300.00" font-size="6.6" fill="#2a2a2a" text-anchor="middle" textLength="75.5" lengthAdjust="spacingAndGlyphs">HER2 High = 12.0 months</text>
<text x="72.30" y="354.70" font-size="6.4" fill="#2e2e2e" stroke="#2e2e2e" stroke-width="0.1" textLength="45.8" lengthAdjust="spacingAndGlyphs">Log Rank = 0.019</text>
<path d="M83.4,262 V265.8 H84.7 V269.7 H88.5 V281.2 H90.5 V285.1 H93.1 V288.9 H94 V292.8 H96.3 V296.6 H97.2 V300.5 H98.4 V304.3 H100.4 V308.2 H105.6 V312 H107.4 V319.7 H111.5 V323.5 H113 V327.4 H121.4 V331.2 H125.5 V335.1 H127 V338.9 H133.1 V342.8 H135.4 V346.6 H136.6 V350.5 H159.5 V354.3 H174.6 V358.2 H191.8 V362" fill="none" stroke="#3d86d6" stroke-width="1.1" stroke-linejoin="miter" stroke-linecap="butt"/>
<path d="M94.3,262 V273.1 H96.5 V284.2 H108.3 V295.3 H110.5 V306.4 H113 V317.6 H116.6 V328.7 H117.2 V339.8 H160.8 V350.9 H253.2 V362" fill="none" stroke="#e7c42e" stroke-width="1.1" stroke-linejoin="miter" stroke-linecap="butt"/>
<path d="M72.5,262 H116.5 V278.7 H128.5 V295.3 H154 V312 H173.4 V328.7 H262.4 V345.3 H311.8" fill="none" stroke="#888888" stroke-width="1.1" stroke-linejoin="miter" stroke-linecap="butt"/>
<text x="61.00" y="400.40" font-size="7.3" fill="#222" stroke="#222" stroke-width="0.2" textLength="104.6" lengthAdjust="spacingAndGlyphs">Number at risk (number censored)</text>
<text x="57.90" y="415.60" font-size="7.1" fill="#3f88d4" stroke="#3f88d4" stroke-width="0.2" text-anchor="end" textLength="12.8" lengthAdjust="spacingAndGlyphs">Low</text>
<text x="72.40" y="415.60" font-size="7.1" fill="#222" stroke="#222" stroke-width="0.2" text-anchor="middle" textLength="19.7" lengthAdjust="spacingAndGlyphs">26 (0)</text>
<text x="118.00" y="415.60" font-size="7.1" fill="#222" stroke="#222" stroke-width="0.2" text-anchor="middle" textLength="15.5" lengthAdjust="spacingAndGlyphs">9 (0)</text>
<text x="163.60" y="415.60" font-size="7.1" fill="#222" stroke="#222" stroke-width="0.2" text-anchor="middle" textLength="15.5" lengthAdjust="spacingAndGlyphs">2 (0)</text>
<text x="209.20" y="415.60" font-size="7.1" fill="#222" stroke="#222" stroke-width="0.2" text-anchor="middle" textLength="15.5" lengthAdjust="spacingAndGlyphs">0 (0)</text>
<text x="254.80" y="415.60" font-size="7.1" fill="#222" stroke="#222" stroke-width="0.2" text-anchor="middle" textLength="15.5" lengthAdjust="spacingAndGlyphs">0 (0)</text>
<text x="300.40" y="415.60" font-size="7.1" fill="#222" stroke="#222" stroke-width="0.2" text-anchor="middle" textLength="15.5" lengthAdjust="spacingAndGlyphs">0 (0)</text>
<text x="57.90" y="426.10" font-size="7.1" fill="#dcbd2c" stroke="#dcbd2c" stroke-width="0.2" text-anchor="end" textLength="24.7" lengthAdjust="spacingAndGlyphs">Medium</text>
<text x="72.40" y="426.10" font-size="7.1" fill="#222" stroke="#222" stroke-width="0.2" text-anchor="middle" textLength="15.5" lengthAdjust="spacingAndGlyphs">9 (0)</text>
<text x="118.00" y="426.10" font-size="7.1" fill="#222" stroke="#222" stroke-width="0.2" text-anchor="middle" textLength="15.5" lengthAdjust="spacingAndGlyphs">2 (0)</text>
<text x="163.60" y="426.10" font-size="7.1" fill="#222" stroke="#222" stroke-width="0.2" text-anchor="middle" textLength="15.5" lengthAdjust="spacingAndGlyphs">1 (0)</text>
<text x="209.20" y="426.10" font-size="7.1" fill="#222" stroke="#222" stroke-width="0.2" text-anchor="middle" textLength="15.5" lengthAdjust="spacingAndGlyphs">1 (0)</text>
<text x="254.80" y="426.10" font-size="7.1" fill="#222" stroke="#222" stroke-width="0.2" text-anchor="middle" textLength="15.5" lengthAdjust="spacingAndGlyphs">0 (0)</text>
<text x="300.40" y="426.10" font-size="7.1" fill="#222" stroke="#222" stroke-width="0.2" text-anchor="middle" textLength="15.5" lengthAdjust="spacingAndGlyphs">0 (0)</text>
<text x="57.90" y="436.90" font-size="7.1" fill="#9c9c9c" stroke="#9c9c9c" stroke-width="0.2" text-anchor="end" textLength="14.3" lengthAdjust="spacingAndGlyphs">High</text>
<text x="72.40" y="436.90" font-size="7.1" fill="#222" stroke="#222" stroke-width="0.2" text-anchor="middle" textLength="15.5" lengthAdjust="spacingAndGlyphs">6 (0)</text>
<text x="118.00" y="436.90" font-size="7.1" fill="#222" stroke="#222" stroke-width="0.2" text-anchor="middle" textLength="15.5" lengthAdjust="spacingAndGlyphs">5 (0)</text>
<text x="163.60" y="436.90" font-size="7.1" fill="#222" stroke="#222" stroke-width="0.2" text-anchor="middle" textLength="15.5" lengthAdjust="spacingAndGlyphs">3 (0)</text>
<text x="209.20" y="436.90" font-size="7.1" fill="#222" stroke="#222" stroke-width="0.2" text-anchor="middle" textLength="15.5" lengthAdjust="spacingAndGlyphs">2 (0)</text>
<text x="254.80" y="436.90" font-size="7.1" fill="#222" stroke="#222" stroke-width="0.2" text-anchor="middle" textLength="15.5" lengthAdjust="spacingAndGlyphs">2 (0)</text>
<text x="300.40" y="436.90" font-size="7.1" fill="#222" stroke="#222" stroke-width="0.2" text-anchor="middle" textLength="15.5" lengthAdjust="spacingAndGlyphs">1 (0)</text>
<text x="357.60" y="217.90" font-size="14" fill="#111">C - OS by HER2 amplicon mRNA score</text>
<line x1="489.10" y1="242.10" x2="497.10" y2="242.10" stroke="#3d86d6" stroke-width="1.6" opacity="0.7"/>
<line x1="493.10" y1="239.30" x2="493.10" y2="244.90" stroke="#3d86d6" stroke-width="1.0" opacity="0.85"/>
<text x="501.20" y="244.70" font-size="6.6" fill="#444" stroke="#444" stroke-width="0.2" textLength="10.7" lengthAdjust="spacingAndGlyphs">Low</text>
<line x1="515.80" y1="242.10" x2="523.90" y2="242.10" stroke="#e7c42e" stroke-width="1.6" opacity="0.7"/>
<line x1="519.85" y1="239.30" x2="519.85" y2="244.90" stroke="#e7c42e" stroke-width="1.0" opacity="0.85"/>
<text x="527.80" y="244.70" font-size="6.6" fill="#444" stroke="#444" stroke-width="0.2" textLength="21.4" lengthAdjust="spacingAndGlyphs">Medium</text>
<line x1="553.30" y1="242.10" x2="561.70" y2="242.10" stroke="#888888" stroke-width="1.6" opacity="0.7"/>
<line x1="557.50" y1="239.30" x2="557.50" y2="244.90" stroke="#888888" stroke-width="1.0" opacity="0.85"/>
<text x="565.80" y="244.70" font-size="6.6" fill="#444" stroke="#444" stroke-width="0.2" textLength="11.5" lengthAdjust="spacingAndGlyphs">High</text>
<line x1="401.50" y1="257.40" x2="401.50" y2="367.50" stroke="#666666" stroke-width="1.0"/>
<line x1="401.00" y1="367.00" x2="660.50" y2="367.00" stroke="#666666" stroke-width="1.0"/>
<line x1="399.10" y1="362.60" x2="401.50" y2="362.60" stroke="#555" stroke-width="1.0"/>
<text x="398.40" y="365.89" font-size="7.2" fill="#3a3a3a" stroke="#3a3a3a" stroke-width="0.2" text-anchor="end" textLength="10.5" lengthAdjust="spacingAndGlyphs">0.0</text>
<line x1="399.10" y1="342.60" x2="401.50" y2="342.60" stroke="#555" stroke-width="1.0"/>
<text x="398.40" y="345.89" font-size="7.2" fill="#3a3a3a" stroke="#3a3a3a" stroke-width="0.2" text-anchor="end" textLength="10.5" lengthAdjust="spacingAndGlyphs">0.2</text>
<line x1="399.10" y1="322.60" x2="401.50" y2="322.60" stroke="#555" stroke-width="1.0"/>
<text x="398.40" y="325.89" font-size="7.2" fill="#3a3a3a" stroke="#3a3a3a" stroke-width="0.2" text-anchor="end" textLength="10.5" lengthAdjust="spacingAndGlyphs">0.4</text>
<line x1="399.10" y1="302.60" x2="401.50" y2="302.60" stroke="#555" stroke-width="1.0"/>
<text x="398.40" y="305.89" font-size="7.2" fill="#3a3a3a" stroke="#3a3a3a" stroke-width="0.2" text-anchor="end" textLength="10.5" lengthAdjust="spacingAndGlyphs">0.6</text>
<line x1="399.10" y1="282.60" x2="401.50" y2="282.60" stroke="#555" stroke-width="1.0"/>
<text x="398.40" y="285.89" font-size="7.2" fill="#3a3a3a" stroke="#3a3a3a" stroke-width="0.2" text-anchor="end" textLength="10.5" lengthAdjust="spacingAndGlyphs">0.8</text>
<line x1="399.10" y1="262.60" x2="401.50" y2="262.60" stroke="#555" stroke-width="1.0"/>
<text x="398.40" y="265.89" font-size="7.2" fill="#3a3a3a" stroke="#3a3a3a" stroke-width="0.2" text-anchor="end" textLength="10.5" lengthAdjust="spacingAndGlyphs">1.0</text>
<line x1="413.40" y1="367.00" x2="413.40" y2="369.40" stroke="#555" stroke-width="1.0"/>
<text x="413.40" y="377.50" font-size="7.2" fill="#3a3a3a" stroke="#3a3a3a" stroke-width="0.2" text-anchor="middle" textLength="4.2" lengthAdjust="spacingAndGlyphs">0</text>
<line x1="441.60" y1="367.00" x2="441.60" y2="369.40" stroke="#555" stroke-width="1.0"/>
<text x="441.60" y="377.50" font-size="7.2" fill="#3a3a3a" stroke="#3a3a3a" stroke-width="0.2" text-anchor="middle" textLength="4.2" lengthAdjust="spacingAndGlyphs">6</text>
<line x1="469.80" y1="367.00" x2="469.80" y2="369.40" stroke="#555" stroke-width="1.0"/>
<text x="469.80" y="377.50" font-size="7.2" fill="#3a3a3a" stroke="#3a3a3a" stroke-width="0.2" text-anchor="middle" textLength="8.4" lengthAdjust="spacingAndGlyphs">12</text>
<line x1="498.00" y1="367.00" x2="498.00" y2="369.40" stroke="#555" stroke-width="1.0"/>
<text x="498.00" y="377.50" font-size="7.2" fill="#3a3a3a" stroke="#3a3a3a" stroke-width="0.2" text-anchor="middle" textLength="8.4" lengthAdjust="spacingAndGlyphs">18</text>
<line x1="526.20" y1="367.00" x2="526.20" y2="369.40" stroke="#555" stroke-width="1.0"/>
<text x="526.20" y="377.50" font-size="7.2" fill="#3a3a3a" stroke="#3a3a3a" stroke-width="0.2" text-anchor="middle" textLength="8.4" lengthAdjust="spacingAndGlyphs">24</text>
<line x1="554.40" y1="367.00" x2="554.40" y2="369.40" stroke="#555" stroke-width="1.0"/>
<text x="554.40" y="377.50" font-size="7.2" fill="#3a3a3a" stroke="#3a3a3a" stroke-width="0.2" text-anchor="middle" textLength="8.4" lengthAdjust="spacingAndGlyphs">30</text>
<line x1="582.60" y1="367.00" x2="582.60" y2="369.40" stroke="#555" stroke-width="1.0"/>
<text x="582.60" y="377.50" font-size="7.2" fill="#3a3a3a" stroke="#3a3a3a" stroke-width="0.2" text-anchor="middle" textLength="8.4" lengthAdjust="spacingAndGlyphs">36</text>
<line x1="610.80" y1="367.00" x2="610.80" y2="369.40" stroke="#555" stroke-width="1.0"/>
<text x="610.80" y="377.50" font-size="7.2" fill="#3a3a3a" stroke="#3a3a3a" stroke-width="0.2" text-anchor="middle" textLength="8.4" lengthAdjust="spacingAndGlyphs">42</text>
<line x1="639.00" y1="367.00" x2="639.00" y2="369.40" stroke="#555" stroke-width="1.0"/>
<text x="639.00" y="377.50" font-size="7.2" fill="#3a3a3a" stroke="#3a3a3a" stroke-width="0.2" text-anchor="middle" textLength="8.4" lengthAdjust="spacingAndGlyphs">48</text>
<text transform="translate(369.37,312.90) scale(1.0,1) rotate(-90)" x="0" y="0" font-size="8.7" fill="#222" text-anchor="middle" textLength="60.6" lengthAdjust="spacingAndGlyphs">Overall Survival</text>
<text x="531.00" y="387.50" font-size="8.5" fill="#222" stroke="#222" stroke-width="0.2" text-anchor="middle" textLength="72.9" lengthAdjust="spacingAndGlyphs">Months from TDXd</text>
<rect x="568.50" y="262.40" width="92.60" height="37.40" fill="#c3c3c3"/>
<text x="614.80" y="267.60" font-size="6.5" fill="#2a2a2a" text-anchor="middle" textLength="33.4" lengthAdjust="spacingAndGlyphs">Median OS</text>
<text x="614.80" y="277.70" font-size="6.5" fill="#2a2a2a" text-anchor="middle" textLength="72.6" lengthAdjust="spacingAndGlyphs">HER2 Low = 9.5 months</text>
<text x="614.80" y="287.90" font-size="6.5" fill="#2a2a2a" text-anchor="middle" textLength="87.8" lengthAdjust="spacingAndGlyphs">HER2 Medium = 18.6 months</text>
<text x="614.80" y="297.90" font-size="6.5" fill="#2a2a2a" text-anchor="middle" textLength="77.8" lengthAdjust="spacingAndGlyphs">HER2 High = 37.2 months</text>
<text x="413.20" y="356.00" font-size="6.4" fill="#2e2e2e" stroke="#2e2e2e" stroke-width="0.1" textLength="47.0" lengthAdjust="spacingAndGlyphs">Log Rank = 0.009</text>
<path d="M424.4,262.6 V269.9 H426.2 V277.8 H430.1 V281.3 H435.4 V285.2 H437.1 V293.1 H440.2 V297 H446.3 V300.5 H449.8 V305.4 H458 V313.3 H463.8 V317.2 H466.4 V322.4 H468.7 V326.3 H480.6 V335.6 H489.5 V340.3 H507.4 V346.2 H518.2 V362.6" fill="none" stroke="#3d86d6" stroke-width="1.1" stroke-linejoin="miter" stroke-linecap="butt"/>
<path d="M427.1,262.6 V273.7 H428.4 V284.8 H435.4 V295.9 H491.5 V307 H501.2 V318.2 H541.3 V333 H581.2 V347.8 H639.5" fill="none" stroke="#e7c42e" stroke-width="1.1" stroke-linejoin="miter" stroke-linecap="butt"/>
<path d="M413.4,262.6 H474.7 V279.3 H531.3 V300.1 H588.6 V331.3 H643.5 V362.6" fill="none" stroke="#888888" stroke-width="1.1" stroke-linejoin="miter" stroke-linecap="butt"/>
<path d="M450.50,305.40H454.50M452.50,303.40V307.40" stroke="#3d86d6" stroke-width="0.9" fill="none"/>
<path d="M455.80,313.30H459.80M457.80,311.30V315.30" stroke="#3d86d6" stroke-width="0.9" fill="none"/>
<path d="M504.00,340.30H508.00M506.00,338.30V342.30" stroke="#3d86d6" stroke-width="0.9" fill="none"/>
<path d="M507.80,346.20H511.80M509.80,344.20V348.20" stroke="#3d86d6" stroke-width="0.9" fill="none"/>
<path d="M518.00,318.20H522.00M520.00,316.20V320.20" stroke="#e7c42e" stroke-width="0.9" fill="none"/>
<path d="M637.50,347.80H641.50M639.50,345.80V349.80" stroke="#e7c42e" stroke-width="0.9" fill="none"/>
<path d="M485.30,279.30H489.30M487.30,277.30V281.30" stroke="#888888" stroke-width="0.9" fill="none"/>
<path d="M539.30,300.10H543.30M541.30,298.10V302.10" stroke="#888888" stroke-width="0.9" fill="none"/>
<text x="401.60" y="402.00" font-size="7" fill="#222" stroke="#222" stroke-width="0.2" textLength="108.2" lengthAdjust="spacingAndGlyphs">Number at risk (number censored)</text>
<text x="398.00" y="416.80" font-size="7.4" fill="#3f88d4" stroke="#3f88d4" stroke-width="0.2" text-anchor="end" textLength="13.2" lengthAdjust="spacingAndGlyphs">Low</text>
<text x="413.40" y="416.80" font-size="7.4" fill="#222" stroke="#222" stroke-width="0.2" text-anchor="middle" textLength="20.3" lengthAdjust="spacingAndGlyphs">26 (0)</text>
<text x="441.60" y="416.80" font-size="7.4" fill="#222" stroke="#222" stroke-width="0.2" text-anchor="middle" textLength="20.3" lengthAdjust="spacingAndGlyphs">17 (0)</text>
<text x="469.80" y="416.80" font-size="7.4" fill="#222" stroke="#222" stroke-width="0.2" text-anchor="middle" textLength="16.0" lengthAdjust="spacingAndGlyphs">8 (2)</text>
<text x="498.00" y="416.80" font-size="7.4" fill="#222" stroke="#222" stroke-width="0.2" text-anchor="middle" textLength="16.0" lengthAdjust="spacingAndGlyphs">5 (2)</text>
<text x="526.20" y="416.80" font-size="7.4" fill="#222" stroke="#222" stroke-width="0.2" text-anchor="middle" textLength="16.0" lengthAdjust="spacingAndGlyphs">0 (5)</text>
<text x="554.40" y="416.80" font-size="7.4" fill="#222" stroke="#222" stroke-width="0.2" text-anchor="middle" textLength="16.0" lengthAdjust="spacingAndGlyphs">0 (5)</text>
<text x="582.60" y="416.80" font-size="7.4" fill="#222" stroke="#222" stroke-width="0.2" text-anchor="middle" textLength="16.0" lengthAdjust="spacingAndGlyphs">0 (5)</text>
<text x="610.80" y="416.80" font-size="7.4" fill="#222" stroke="#222" stroke-width="0.2" text-anchor="middle" textLength="16.0" lengthAdjust="spacingAndGlyphs">0 (5)</text>
<text x="639.00" y="416.80" font-size="7.4" fill="#222" stroke="#222" stroke-width="0.2" text-anchor="middle" textLength="16.0" lengthAdjust="spacingAndGlyphs">0 (5)</text>
<text x="398.00" y="427.50" font-size="7.4" fill="#dcbd2c" stroke="#dcbd2c" stroke-width="0.2" text-anchor="end" textLength="25.5" lengthAdjust="spacingAndGlyphs">Medium</text>
<text x="413.40" y="427.50" font-size="7.4" fill="#222" stroke="#222" stroke-width="0.2" text-anchor="middle" textLength="16.0" lengthAdjust="spacingAndGlyphs">9 (0)</text>
<text x="441.60" y="427.50" font-size="7.4" fill="#222" stroke="#222" stroke-width="0.2" text-anchor="middle" textLength="16.0" lengthAdjust="spacingAndGlyphs">6 (0)</text>
<text x="469.80" y="427.50" font-size="7.4" fill="#222" stroke="#222" stroke-width="0.2" text-anchor="middle" textLength="16.0" lengthAdjust="spacingAndGlyphs">6 (0)</text>
<text x="498.00" y="427.50" font-size="7.4" fill="#222" stroke="#222" stroke-width="0.2" text-anchor="middle" textLength="16.0" lengthAdjust="spacingAndGlyphs">5 (0)</text>
<text x="526.20" y="427.50" font-size="7.4" fill="#222" stroke="#222" stroke-width="0.2" text-anchor="middle" textLength="16.0" lengthAdjust="spacingAndGlyphs">3 (1)</text>
<text x="554.40" y="427.50" font-size="7.4" fill="#222" stroke="#222" stroke-width="0.2" text-anchor="middle" textLength="16.0" lengthAdjust="spacingAndGlyphs">2 (1)</text>
<text x="582.60" y="427.50" font-size="7.4" fill="#222" stroke="#222" stroke-width="0.2" text-anchor="middle" textLength="16.0" lengthAdjust="spacingAndGlyphs">1 (1)</text>
<text x="610.80" y="427.50" font-size="7.4" fill="#222" stroke="#222" stroke-width="0.2" text-anchor="middle" textLength="16.0" lengthAdjust="spacingAndGlyphs">1 (1)</text>
<text x="639.00" y="427.50" font-size="7.4" fill="#222" stroke="#222" stroke-width="0.2" text-anchor="middle" textLength="16.0" lengthAdjust="spacingAndGlyphs">1 (1)</text>
<text x="398.00" y="438.30" font-size="7.4" fill="#9c9c9c" stroke="#9c9c9c" stroke-width="0.2" text-anchor="end" textLength="14.8" lengthAdjust="spacingAndGlyphs">High</text>
<text x="413.40" y="438.30" font-size="7.4" fill="#222" stroke="#222" stroke-width="0.2" text-anchor="middle" textLength="16.0" lengthAdjust="spacingAndGlyphs">6 (0)</text>
<text x="441.60" y="438.30" font-size="7.4" fill="#222" stroke="#222" stroke-width="0.2" text-anchor="middle" textLength="16.0" lengthAdjust="spacingAndGlyphs">6 (0)</text>
<text x="469.80" y="438.30" font-size="7.4" fill="#222" stroke="#222" stroke-width="0.2" text-anchor="middle" textLength="16.0" lengthAdjust="spacingAndGlyphs">6 (0)</text>
<text x="498.00" y="438.30" font-size="7.4" fill="#222" stroke="#222" stroke-width="0.2" text-anchor="middle" textLength="16.0" lengthAdjust="spacingAndGlyphs">4 (1)</text>
<text x="526.20" y="438.30" font-size="7.4" fill="#222" stroke="#222" stroke-width="0.2" text-anchor="middle" textLength="16.0" lengthAdjust="spacingAndGlyphs">4 (1)</text>
<text x="554.40" y="438.30" font-size="7.4" fill="#222" stroke="#222" stroke-width="0.2" text-anchor="middle" textLength="16.0" lengthAdjust="spacingAndGlyphs">2 (2)</text>
<text x="582.60" y="438.30" font-size="7.4" fill="#222" stroke="#222" stroke-width="0.2" text-anchor="middle" textLength="16.0" lengthAdjust="spacingAndGlyphs">2 (2)</text>
<text x="610.80" y="438.30" font-size="7.4" fill="#222" stroke="#222" stroke-width="0.2" text-anchor="middle" textLength="16.0" lengthAdjust="spacingAndGlyphs">1 (2)</text>
<text x="639.00" y="438.30" font-size="7.4" fill="#222" stroke="#222" stroke-width="0.2" text-anchor="middle" textLength="16.0" lengthAdjust="spacingAndGlyphs">1 (2)</text>
<text x="12.60" y="470.90" font-size="14" fill="#111">D - TTNT by ERBB2 mRNA score (HER2+)</text>
<line x1="147.00" y1="489.70" x2="156.10" y2="489.70" stroke="#3d86d6" stroke-width="1.6" opacity="0.7"/>
<text x="160.70" y="492.00" font-size="6.6" fill="#444" stroke="#444" stroke-width="0.2" textLength="11.3" lengthAdjust="spacingAndGlyphs">Low</text>
<line x1="176.20" y1="489.70" x2="185.50" y2="489.70" stroke="#e7c42e" stroke-width="1.6" opacity="0.7"/>
<text x="189.90" y="492.00" font-size="6.6" fill="#444" stroke="#444" stroke-width="0.2" textLength="22.6" lengthAdjust="spacingAndGlyphs">Medium</text>
<line x1="216.90" y1="489.70" x2="226.10" y2="489.70" stroke="#888888" stroke-width="1.6" opacity="0.7"/>
<text x="230.80" y="492.00" font-size="6.6" fill="#444" stroke="#444" stroke-width="0.2" textLength="12.5" lengthAdjust="spacingAndGlyphs">High</text>
<line x1="52.50" y1="504.60" x2="52.50" y2="605.70" stroke="#666666" stroke-width="1.0"/>
<line x1="52.00" y1="605.20" x2="334.00" y2="605.20" stroke="#666666" stroke-width="1.0"/>
<line x1="50.10" y1="600.50" x2="52.50" y2="600.50" stroke="#555" stroke-width="1.0"/>
<text x="48.40" y="603.58" font-size="6.6" fill="#3a3a3a" stroke="#3a3a3a" stroke-width="0.2" text-anchor="end" textLength="10.6" lengthAdjust="spacingAndGlyphs">0.0</text>
<line x1="50.10" y1="582.14" x2="52.50" y2="582.14" stroke="#555" stroke-width="1.0"/>
<text x="48.40" y="585.22" font-size="6.6" fill="#3a3a3a" stroke="#3a3a3a" stroke-width="0.2" text-anchor="end" textLength="10.6" lengthAdjust="spacingAndGlyphs">0.2</text>
<line x1="50.10" y1="563.78" x2="52.50" y2="563.78" stroke="#555" stroke-width="1.0"/>
<text x="48.40" y="566.86" font-size="6.6" fill="#3a3a3a" stroke="#3a3a3a" stroke-width="0.2" text-anchor="end" textLength="10.6" lengthAdjust="spacingAndGlyphs">0.4</text>
<line x1="50.10" y1="545.42" x2="52.50" y2="545.42" stroke="#555" stroke-width="1.0"/>
<text x="48.40" y="548.50" font-size="6.6" fill="#3a3a3a" stroke="#3a3a3a" stroke-width="0.2" text-anchor="end" textLength="10.6" lengthAdjust="spacingAndGlyphs">0.6</text>
<line x1="50.10" y1="527.06" x2="52.50" y2="527.06" stroke="#555" stroke-width="1.0"/>
<text x="48.40" y="530.14" font-size="6.6" fill="#3a3a3a" stroke="#3a3a3a" stroke-width="0.2" text-anchor="end" textLength="10.6" lengthAdjust="spacingAndGlyphs">0.8</text>
<line x1="50.10" y1="508.70" x2="52.50" y2="508.70" stroke="#555" stroke-width="1.0"/>
<text x="48.40" y="511.78" font-size="6.6" fill="#3a3a3a" stroke="#3a3a3a" stroke-width="0.2" text-anchor="end" textLength="10.6" lengthAdjust="spacingAndGlyphs">1.0</text>
<line x1="65.70" y1="605.20" x2="65.70" y2="607.60" stroke="#555" stroke-width="1.0"/>
<text x="65.70" y="613.90" font-size="6.6" fill="#3a3a3a" stroke="#3a3a3a" stroke-width="0.2" text-anchor="middle" textLength="4.3" lengthAdjust="spacingAndGlyphs">0</text>
<line x1="116.80" y1="605.20" x2="116.80" y2="607.60" stroke="#555" stroke-width="1.0"/>
<text x="116.80" y="613.90" font-size="6.6" fill="#3a3a3a" stroke="#3a3a3a" stroke-width="0.2" text-anchor="middle" textLength="4.3" lengthAdjust="spacingAndGlyphs">6</text>
<line x1="167.90" y1="605.20" x2="167.90" y2="607.60" stroke="#555" stroke-width="1.0"/>
<text x="167.90" y="613.90" font-size="6.6" fill="#3a3a3a" stroke="#3a3a3a" stroke-width="0.2" text-anchor="middle" textLength="8.5" lengthAdjust="spacingAndGlyphs">12</text>
<line x1="219.01" y1="605.20" x2="219.01" y2="607.60" stroke="#555" stroke-width="1.0"/>
<text x="219.01" y="613.90" font-size="6.6" fill="#3a3a3a" stroke="#3a3a3a" stroke-width="0.2" text-anchor="middle" textLength="8.5" lengthAdjust="spacingAndGlyphs">18</text>
<line x1="270.11" y1="605.20" x2="270.11" y2="607.60" stroke="#555" stroke-width="1.0"/>
<text x="270.11" y="613.90" font-size="6.6" fill="#3a3a3a" stroke="#3a3a3a" stroke-width="0.2" text-anchor="middle" textLength="8.5" lengthAdjust="spacingAndGlyphs">24</text>
<line x1="321.21" y1="605.20" x2="321.21" y2="607.60" stroke="#555" stroke-width="1.0"/>
<text x="321.21" y="613.90" font-size="6.6" fill="#3a3a3a" stroke="#3a3a3a" stroke-width="0.2" text-anchor="middle" textLength="8.5" lengthAdjust="spacingAndGlyphs">30</text>
<text transform="translate(18.34,554.10) scale(1.18,1) rotate(-90)" x="0" y="0" font-size="8.0" fill="#222" text-anchor="middle" textLength="83.2" lengthAdjust="spacingAndGlyphs">Time to Next Treatment</text>
<text x="192.85" y="622.90" font-size="8.6" fill="#222" stroke="#222" stroke-width="0.2" text-anchor="middle" textLength="79.6" lengthAdjust="spacingAndGlyphs">Months from TDXd</text>
<rect x="210.20" y="508.80" width="119.20" height="36.70" fill="#c3c3c3"/>
<text x="269.80" y="516.60" font-size="6.6" fill="#2a2a2a" text-anchor="middle" textLength="44.6" lengthAdjust="spacingAndGlyphs">Median TTNT</text>
<text x="269.80" y="525.80" font-size="6.6" fill="#2a2a2a" text-anchor="middle" textLength="84.0" lengthAdjust="spacingAndGlyphs">ERBB2 Low = 4.7 months</text>
<text x="269.80" y="534.80" font-size="6.6" fill="#2a2a2a" text-anchor="middle" textLength="96.6" lengthAdjust="spacingAndGlyphs">ERBB2 Medium = 7.5 months</text>
<text x="269.80" y="543.60" font-size="6.6" fill="#2a2a2a" text-anchor="middle" textLength="85.6" lengthAdjust="spacingAndGlyphs">ERBB2 High = 5.9 months</text>
<text x="65.60" y="598.80" font-size="6.6" fill="#2e2e2e" stroke="#2e2e2e" stroke-width="0.1" textLength="50.6" lengthAdjust="spacingAndGlyphs">Log Rank = 0.022</text>
<path d="M79.2,508.7 V521.8 H82.7 V534.9 H92.7 V548.1 H104.6 V561.2 H105.5 V574.3 H110.7 V587.4 H126.6 V600.5" fill="none" stroke="#3d86d6" stroke-width="1.1" stroke-linejoin="miter" stroke-linecap="butt"/>
<path d="M89.7,508.7 H125.2 V554.6 H133.3 V600.5" fill="none" stroke="#e7c42e" stroke-width="1.1" stroke-linejoin="miter" stroke-linecap="butt"/>
<path d="M65.7,508.7 H89.7 V514.4 H91.5 V520.2 H102 V525.9 H105.5 V531.6 H108.1 V537.4 H111.3 V543.1 H113.9 V548.9 H115.1 V554.6 H116.5 V560.3 H128.4 V566.1 H157 V571.8 H164.7 V577.6 H178.7 V583.3 H268 V589 H278.7 V594.8 H333.9" fill="none" stroke="#888888" stroke-width="1.1" stroke-linejoin="miter" stroke-linecap="butt"/>
<text x="52.40" y="636.80" font-size="6.6" fill="#222" stroke="#222" stroke-width="0.2" textLength="117.5" lengthAdjust="spacingAndGlyphs">Number at risk (number censored)</text>
<text x="48.80" y="650.00" font-size="7.0" fill="#3f88d4" stroke="#3f88d4" stroke-width="0.2" text-anchor="end" textLength="14.1" lengthAdjust="spacingAndGlyphs">Low</text>
<text x="65.70" y="650.00" font-size="7.0" fill="#222" stroke="#222" stroke-width="0.2" text-anchor="middle" textLength="16.8" lengthAdjust="spacingAndGlyphs">7 (0)</text>
<text x="116.80" y="650.00" font-size="7.0" fill="#222" stroke="#222" stroke-width="0.2" text-anchor="middle" textLength="16.8" lengthAdjust="spacingAndGlyphs">1 (0)</text>
<text x="167.90" y="650.00" font-size="7.0" fill="#222" stroke="#222" stroke-width="0.2" text-anchor="middle" textLength="16.8" lengthAdjust="spacingAndGlyphs">0 (0)</text>
<text x="219.01" y="650.00" font-size="7.0" fill="#222" stroke="#222" stroke-width="0.2" text-anchor="middle" textLength="16.8" lengthAdjust="spacingAndGlyphs">0 (0)</text>
<text x="270.11" y="650.00" font-size="7.0" fill="#222" stroke="#222" stroke-width="0.2" text-anchor="middle" textLength="16.8" lengthAdjust="spacingAndGlyphs">0 (0)</text>
<text x="321.21" y="650.00" font-size="7.0" fill="#222" stroke="#222" stroke-width="0.2" text-anchor="middle" textLength="16.8" lengthAdjust="spacingAndGlyphs">0 (0)</text>
<text x="48.80" y="659.60" font-size="7.0" fill="#dcbd2c" stroke="#dcbd2c" stroke-width="0.2" text-anchor="end" textLength="27.4" lengthAdjust="spacingAndGlyphs">Medium</text>
<text x="65.70" y="659.60" font-size="7.0" fill="#222" stroke="#222" stroke-width="0.2" text-anchor="middle" textLength="16.8" lengthAdjust="spacingAndGlyphs">2 (0)</text>
<text x="116.80" y="659.60" font-size="7.0" fill="#222" stroke="#222" stroke-width="0.2" text-anchor="middle" textLength="16.8" lengthAdjust="spacingAndGlyphs">2 (0)</text>
<text x="167.90" y="659.60" font-size="7.0" fill="#222" stroke="#222" stroke-width="0.2" text-anchor="middle" textLength="16.8" lengthAdjust="spacingAndGlyphs">0 (0)</text>
<text x="219.01" y="659.60" font-size="7.0" fill="#222" stroke="#222" stroke-width="0.2" text-anchor="middle" textLength="16.8" lengthAdjust="spacingAndGlyphs">0 (0)</text>
<text x="270.11" y="659.60" font-size="7.0" fill="#222" stroke="#222" stroke-width="0.2" text-anchor="middle" textLength="16.8" lengthAdjust="spacingAndGlyphs">0 (0)</text>
<text x="321.21" y="659.60" font-size="7.0" fill="#222" stroke="#222" stroke-width="0.2" text-anchor="middle" textLength="16.8" lengthAdjust="spacingAndGlyphs">0 (0)</text>
<text x="48.80" y="669.70" font-size="7.0" fill="#9c9c9c" stroke="#9c9c9c" stroke-width="0.2" text-anchor="end" textLength="15.8" lengthAdjust="spacingAndGlyphs">High</text>
<text x="65.70" y="669.70" font-size="7.0" fill="#222" stroke="#222" stroke-width="0.2" text-anchor="middle" textLength="21.4" lengthAdjust="spacingAndGlyphs">16 (0)</text>
<text x="116.80" y="669.70" font-size="7.0" fill="#222" stroke="#222" stroke-width="0.2" text-anchor="middle" textLength="16.8" lengthAdjust="spacingAndGlyphs">7 (0)</text>
<text x="167.90" y="669.70" font-size="7.0" fill="#222" stroke="#222" stroke-width="0.2" text-anchor="middle" textLength="16.8" lengthAdjust="spacingAndGlyphs">4 (0)</text>
<text x="219.01" y="669.70" font-size="7.0" fill="#222" stroke="#222" stroke-width="0.2" text-anchor="middle" textLength="16.8" lengthAdjust="spacingAndGlyphs">3 (0)</text>
<text x="270.11" y="669.70" font-size="7.0" fill="#222" stroke="#222" stroke-width="0.2" text-anchor="middle" textLength="16.8" lengthAdjust="spacingAndGlyphs">2 (0)</text>
<text x="321.21" y="669.70" font-size="7.0" fill="#222" stroke="#222" stroke-width="0.2" text-anchor="middle" textLength="16.8" lengthAdjust="spacingAndGlyphs">1 (0)</text>
<text x="358.30" y="469.40" font-size="14" fill="#111">E - OS by ERBB2 mRNA score (HER2+)</text>
<line x1="490.10" y1="484.60" x2="499.50" y2="484.60" stroke="#3d86d6" stroke-width="1.6" opacity="0.7"/>
<line x1="494.80" y1="481.80" x2="494.80" y2="487.40" stroke="#3d86d6" stroke-width="1.0" opacity="0.85"/>
<text x="504.00" y="486.80" font-size="6.6" fill="#444" stroke="#444" stroke-width="0.2" textLength="10.9" lengthAdjust="spacingAndGlyphs">Low</text>
<line x1="519.00" y1="484.60" x2="528.40" y2="484.60" stroke="#e7c42e" stroke-width="1.6" opacity="0.7"/>
<line x1="523.70" y1="481.80" x2="523.70" y2="487.40" stroke="#e7c42e" stroke-width="1.0" opacity="0.85"/>
<text x="532.70" y="486.80" font-size="6.6" fill="#444" stroke="#444" stroke-width="0.2" textLength="22.4" lengthAdjust="spacingAndGlyphs">Medium</text>
<line x1="559.20" y1="484.60" x2="568.80" y2="484.60" stroke="#888888" stroke-width="1.6" opacity="0.7"/>
<line x1="564.00" y1="481.80" x2="564.00" y2="487.40" stroke="#888888" stroke-width="1.0" opacity="0.85"/>
<text x="573.00" y="486.80" font-size="6.6" fill="#444" stroke="#444" stroke-width="0.2" textLength="12.9" lengthAdjust="spacingAndGlyphs">High</text>
<line x1="397.50" y1="499.10" x2="397.50" y2="601.80" stroke="#666666" stroke-width="1.0"/>
<line x1="397.00" y1="601.30" x2="674.50" y2="601.30" stroke="#666666" stroke-width="1.0"/>
<line x1="395.10" y1="597.20" x2="397.50" y2="597.20" stroke="#555" stroke-width="1.0"/>
<text x="393.00" y="600.38" font-size="6.9" fill="#3a3a3a" stroke="#3a3a3a" stroke-width="0.2" text-anchor="end" textLength="10.6" lengthAdjust="spacingAndGlyphs">0.0</text>
<line x1="395.10" y1="578.50" x2="397.50" y2="578.50" stroke="#555" stroke-width="1.0"/>
<text x="393.00" y="581.68" font-size="6.9" fill="#3a3a3a" stroke="#3a3a3a" stroke-width="0.2" text-anchor="end" textLength="10.6" lengthAdjust="spacingAndGlyphs">0.2</text>
<line x1="395.10" y1="559.80" x2="397.50" y2="559.80" stroke="#555" stroke-width="1.0"/>
<text x="393.00" y="562.98" font-size="6.9" fill="#3a3a3a" stroke="#3a3a3a" stroke-width="0.2" text-anchor="end" textLength="10.6" lengthAdjust="spacingAndGlyphs">0.4</text>
<line x1="395.10" y1="541.10" x2="397.50" y2="541.10" stroke="#555" stroke-width="1.0"/>
<text x="393.00" y="544.28" font-size="6.9" fill="#3a3a3a" stroke="#3a3a3a" stroke-width="0.2" text-anchor="end" textLength="10.6" lengthAdjust="spacingAndGlyphs">0.6</text>
<line x1="395.10" y1="522.40" x2="397.50" y2="522.40" stroke="#555" stroke-width="1.0"/>
<text x="393.00" y="525.58" font-size="6.9" fill="#3a3a3a" stroke="#3a3a3a" stroke-width="0.2" text-anchor="end" textLength="10.6" lengthAdjust="spacingAndGlyphs">0.8</text>
<line x1="395.10" y1="503.70" x2="397.50" y2="503.70" stroke="#555" stroke-width="1.0"/>
<text x="393.00" y="506.88" font-size="6.9" fill="#3a3a3a" stroke="#3a3a3a" stroke-width="0.2" text-anchor="end" textLength="10.6" lengthAdjust="spacingAndGlyphs">1.0</text>
<line x1="409.80" y1="601.30" x2="409.80" y2="603.70" stroke="#555" stroke-width="1.0"/>
<text x="409.80" y="610.80" font-size="6.9" fill="#3a3a3a" stroke="#3a3a3a" stroke-width="0.2" text-anchor="middle" textLength="4.2" lengthAdjust="spacingAndGlyphs">0</text>
<line x1="439.98" y1="601.30" x2="439.98" y2="603.70" stroke="#555" stroke-width="1.0"/>
<text x="439.98" y="610.80" font-size="6.9" fill="#3a3a3a" stroke="#3a3a3a" stroke-width="0.2" text-anchor="middle" textLength="4.2" lengthAdjust="spacingAndGlyphs">6</text>
<line x1="470.16" y1="601.30" x2="470.16" y2="603.70" stroke="#555" stroke-width="1.0"/>
<text x="470.16" y="610.80" font-size="6.9" fill="#3a3a3a" stroke="#3a3a3a" stroke-width="0.2" text-anchor="middle" textLength="8.4" lengthAdjust="spacingAndGlyphs">12</text>
<line x1="500.34" y1="601.30" x2="500.34" y2="603.70" stroke="#555" stroke-width="1.0"/>
<text x="500.34" y="610.80" font-size="6.9" fill="#3a3a3a" stroke="#3a3a3a" stroke-width="0.2" text-anchor="middle" textLength="8.4" lengthAdjust="spacingAndGlyphs">18</text>
<line x1="530.52" y1="601.30" x2="530.52" y2="603.70" stroke="#555" stroke-width="1.0"/>
<text x="530.52" y="610.80" font-size="6.9" fill="#3a3a3a" stroke="#3a3a3a" stroke-width="0.2" text-anchor="middle" textLength="8.4" lengthAdjust="spacingAndGlyphs">24</text>
<line x1="560.70" y1="601.30" x2="560.70" y2="603.70" stroke="#555" stroke-width="1.0"/>
<text x="560.70" y="610.80" font-size="6.9" fill="#3a3a3a" stroke="#3a3a3a" stroke-width="0.2" text-anchor="middle" textLength="8.4" lengthAdjust="spacingAndGlyphs">30</text>
<line x1="590.88" y1="601.30" x2="590.88" y2="603.70" stroke="#555" stroke-width="1.0"/>
<text x="590.88" y="610.80" font-size="6.9" fill="#3a3a3a" stroke="#3a3a3a" stroke-width="0.2" text-anchor="middle" textLength="8.4" lengthAdjust="spacingAndGlyphs">36</text>
<line x1="621.06" y1="601.30" x2="621.06" y2="603.70" stroke="#555" stroke-width="1.0"/>
<text x="621.06" y="610.80" font-size="6.9" fill="#3a3a3a" stroke="#3a3a3a" stroke-width="0.2" text-anchor="middle" textLength="8.4" lengthAdjust="spacingAndGlyphs">42</text>
<line x1="651.24" y1="601.30" x2="651.24" y2="603.70" stroke="#555" stroke-width="1.0"/>
<text x="651.24" y="610.80" font-size="6.9" fill="#3a3a3a" stroke="#3a3a3a" stroke-width="0.2" text-anchor="middle" textLength="8.4" lengthAdjust="spacingAndGlyphs">48</text>
<text transform="translate(362.18,550.40) scale(1.16,1) rotate(-90)" x="0" y="0" font-size="8.0" fill="#222" text-anchor="middle" textLength="56.0" lengthAdjust="spacingAndGlyphs">Overall Survival</text>
<text x="535.90" y="619.60" font-size="8.6" fill="#222" stroke="#222" stroke-width="0.2" text-anchor="middle" textLength="78.1" lengthAdjust="spacingAndGlyphs">Months from TDXd</text>
<rect x="558.30" y="503.90" width="108.70" height="34.30" fill="#c3c3c3"/>
<text x="612.65" y="508.60" font-size="6.6" fill="#2a2a2a" text-anchor="middle" textLength="36.1" lengthAdjust="spacingAndGlyphs">Median OS</text>
<text x="612.65" y="517.80" font-size="6.6" fill="#2a2a2a" text-anchor="middle" textLength="82.9" lengthAdjust="spacingAndGlyphs">ERBB2 Low = 7.1 months</text>
<text x="612.65" y="527.40" font-size="6.6" fill="#2a2a2a" text-anchor="middle" textLength="99.3" lengthAdjust="spacingAndGlyphs">ERBB2 Medium = 21.3 months</text>
<text x="612.65" y="536.50" font-size="6.6" fill="#2a2a2a" text-anchor="middle" textLength="88.5" lengthAdjust="spacingAndGlyphs">ERBB2 High = 25.1 months</text>
<text x="409.50" y="590.90" font-size="6.6" fill="#2e2e2e" stroke="#2e2e2e" stroke-width="0.1" textLength="50.7" lengthAdjust="spacingAndGlyphs">Log Rank = 0.005</text>
<path d="M421.5,503.7 V517.1 H432.7 V530.5 H434.4 V543.8 H445.1 V557.1 H466.4 V570.5 H482.2 V583.8 H490.9 V597.2" fill="none" stroke="#3d86d6" stroke-width="1.1" stroke-linejoin="miter" stroke-linecap="butt"/>
<path d="M423.6,503.7 H511.1 V550.4 H522.1 V597.2" fill="none" stroke="#e7c42e" stroke-width="1.1" stroke-linejoin="miter" stroke-linecap="butt"/>
<path d="M409.8,503.7 H423.6 V509.5 H425.7 V515.4 H432.7 V521.2 H438.5 V527.1 H475.7 V532.9 H493.2 V539.3 H503.7 V545.8 H535.9 V553.1 H547.3 V560.5 H589.6 V569.6 H597.7 V578.9 H656.4 V597.2" fill="none" stroke="#888888" stroke-width="1.1" stroke-linejoin="miter" stroke-linecap="butt"/>
<path d="M486.80,532.90H490.80M488.80,530.90V534.90" stroke="#888888" stroke-width="0.9" fill="none"/>
<path d="M522.20,545.80H526.20M524.20,543.80V547.80" stroke="#888888" stroke-width="0.9" fill="none"/>
<path d="M545.30,560.50H549.30M547.30,558.50V562.50" stroke="#888888" stroke-width="0.9" fill="none"/>
<path d="M649.30,578.90H653.30M651.30,576.90V580.90" stroke="#888888" stroke-width="0.9" fill="none"/>
<text x="396.60" y="633.60" font-size="6.6" fill="#222" stroke="#222" stroke-width="0.2" textLength="115.4" lengthAdjust="spacingAndGlyphs">Number at risk (number censored)</text>
<text x="393.00" y="646.70" font-size="6.7" fill="#3f88d4" stroke="#3f88d4" stroke-width="0.2" text-anchor="end" textLength="13.8" lengthAdjust="spacingAndGlyphs">Low</text>
<text x="409.80" y="646.70" font-size="6.7" fill="#222" stroke="#222" stroke-width="0.2" text-anchor="middle" textLength="16.5" lengthAdjust="spacingAndGlyphs">7 (0)</text>
<text x="439.98" y="646.70" font-size="6.7" fill="#222" stroke="#222" stroke-width="0.2" text-anchor="middle" textLength="16.5" lengthAdjust="spacingAndGlyphs">4 (0)</text>
<text x="470.16" y="646.70" font-size="6.7" fill="#222" stroke="#222" stroke-width="0.2" text-anchor="middle" textLength="16.5" lengthAdjust="spacingAndGlyphs">2 (0)</text>
<text x="500.34" y="646.70" font-size="6.7" fill="#222" stroke="#222" stroke-width="0.2" text-anchor="middle" textLength="16.5" lengthAdjust="spacingAndGlyphs">0 (0)</text>
<text x="530.52" y="646.70" font-size="6.7" fill="#222" stroke="#222" stroke-width="0.2" text-anchor="middle" textLength="16.5" lengthAdjust="spacingAndGlyphs">0 (0)</text>
<text x="560.70" y="646.70" font-size="6.7" fill="#222" stroke="#222" stroke-width="0.2" text-anchor="middle" textLength="16.5" lengthAdjust="spacingAndGlyphs">0 (0)</text>
<text x="590.88" y="646.70" font-size="6.7" fill="#222" stroke="#222" stroke-width="0.2" text-anchor="middle" textLength="16.5" lengthAdjust="spacingAndGlyphs">0 (0)</text>
<text x="621.06" y="646.70" font-size="6.7" fill="#222" stroke="#222" stroke-width="0.2" text-anchor="middle" textLength="16.5" lengthAdjust="spacingAndGlyphs">0 (0)</text>
<text x="651.24" y="646.70" font-size="6.7" fill="#222" stroke="#222" stroke-width="0.2" text-anchor="middle" textLength="16.5" lengthAdjust="spacingAndGlyphs">0 (0)</text>
<text x="393.00" y="656.70" font-size="6.7" fill="#dcbd2c" stroke="#dcbd2c" stroke-width="0.2" text-anchor="end" textLength="26.7" lengthAdjust="spacingAndGlyphs">Medium</text>
<text x="409.80" y="656.70" font-size="6.7" fill="#222" stroke="#222" stroke-width="0.2" text-anchor="middle" textLength="16.5" lengthAdjust="spacingAndGlyphs">2 (0)</text>
<text x="439.98" y="656.70" font-size="6.7" fill="#222" stroke="#222" stroke-width="0.2" text-anchor="middle" textLength="16.5" lengthAdjust="spacingAndGlyphs">2 (0)</text>
<text x="470.16" y="656.70" font-size="6.7" fill="#222" stroke="#222" stroke-width="0.2" text-anchor="middle" textLength="16.5" lengthAdjust="spacingAndGlyphs">2 (0)</text>
<text x="500.34" y="656.70" font-size="6.7" fill="#222" stroke="#222" stroke-width="0.2" text-anchor="middle" textLength="16.5" lengthAdjust="spacingAndGlyphs">2 (0)</text>
<text x="530.52" y="656.70" font-size="6.7" fill="#222" stroke="#222" stroke-width="0.2" text-anchor="middle" textLength="16.5" lengthAdjust="spacingAndGlyphs">0 (0)</text>
<text x="560.70" y="656.70" font-size="6.7" fill="#222" stroke="#222" stroke-width="0.2" text-anchor="middle" textLength="16.5" lengthAdjust="spacingAndGlyphs">0 (0)</text>
<text x="590.88" y="656.70" font-size="6.7" fill="#222" stroke="#222" stroke-width="0.2" text-anchor="middle" textLength="16.5" lengthAdjust="spacingAndGlyphs">0 (0)</text>
<text x="621.06" y="656.70" font-size="6.7" fill="#222" stroke="#222" stroke-width="0.2" text-anchor="middle" textLength="16.5" lengthAdjust="spacingAndGlyphs">0 (0)</text>
<text x="651.24" y="656.70" font-size="6.7" fill="#222" stroke="#222" stroke-width="0.2" text-anchor="middle" textLength="16.5" lengthAdjust="spacingAndGlyphs">0 (0)</text>
<text x="393.00" y="666.50" font-size="6.7" fill="#9c9c9c" stroke="#9c9c9c" stroke-width="0.2" text-anchor="end" textLength="15.4" lengthAdjust="spacingAndGlyphs">High</text>
<text x="409.80" y="666.50" font-size="6.7" fill="#222" stroke="#222" stroke-width="0.2" text-anchor="middle" textLength="21.0" lengthAdjust="spacingAndGlyphs">16 (0)</text>
<text x="439.98" y="666.50" font-size="6.7" fill="#222" stroke="#222" stroke-width="0.2" text-anchor="middle" textLength="21.0" lengthAdjust="spacingAndGlyphs">12 (0)</text>
<text x="470.16" y="666.50" font-size="6.7" fill="#222" stroke="#222" stroke-width="0.2" text-anchor="middle" textLength="21.0" lengthAdjust="spacingAndGlyphs">12 (0)</text>
<text x="500.34" y="666.50" font-size="6.7" fill="#222" stroke="#222" stroke-width="0.2" text-anchor="middle" textLength="16.5" lengthAdjust="spacingAndGlyphs">9 (1)</text>
<text x="530.52" y="666.50" font-size="6.7" fill="#222" stroke="#222" stroke-width="0.2" text-anchor="middle" textLength="16.5" lengthAdjust="spacingAndGlyphs">7 (2)</text>
<text x="560.70" y="666.50" font-size="6.7" fill="#222" stroke="#222" stroke-width="0.2" text-anchor="middle" textLength="16.5" lengthAdjust="spacingAndGlyphs">4 (3)</text>
<text x="590.88" y="666.50" font-size="6.7" fill="#222" stroke="#222" stroke-width="0.2" text-anchor="middle" textLength="16.5" lengthAdjust="spacingAndGlyphs">3 (3)</text>
<text x="621.06" y="666.50" font-size="6.7" fill="#222" stroke="#222" stroke-width="0.2" text-anchor="middle" textLength="16.5" lengthAdjust="spacingAndGlyphs">2 (3)</text>
<text x="651.24" y="666.50" font-size="6.7" fill="#222" stroke="#222" stroke-width="0.2" text-anchor="middle" textLength="16.5" lengthAdjust="spacingAndGlyphs">2 (3)</text>
<text x="12.60" y="709.50" font-size="14" fill="#111">F – TTNT by luminal module score (HER2- only)</text>
<line x1="147.70" y1="723.30" x2="155.90" y2="723.30" stroke="#3d86d6" stroke-width="1.6" opacity="0.7"/>
<text x="159.70" y="725.60" font-size="6.6" fill="#444" stroke="#444" stroke-width="0.2" textLength="11.3" lengthAdjust="spacingAndGlyphs">Low</text>
<line x1="175.20" y1="723.30" x2="183.20" y2="723.30" stroke="#e7c42e" stroke-width="1.6" opacity="0.7"/>
<text x="187.10" y="725.60" font-size="6.6" fill="#444" stroke="#444" stroke-width="0.2" textLength="21.7" lengthAdjust="spacingAndGlyphs">Medium</text>
<line x1="213.40" y1="723.30" x2="221.20" y2="723.30" stroke="#888888" stroke-width="1.6" opacity="0.7"/>
<text x="225.40" y="725.60" font-size="6.6" fill="#444" stroke="#444" stroke-width="0.2" textLength="12.3" lengthAdjust="spacingAndGlyphs">High</text>
<line x1="59.50" y1="738.40" x2="59.50" y2="846.10" stroke="#666666" stroke-width="1.0"/>
<line x1="59.00" y1="845.60" x2="322.00" y2="845.60" stroke="#666666" stroke-width="1.0"/>
<line x1="57.10" y1="841.20" x2="59.50" y2="841.20" stroke="#555" stroke-width="1.0"/>
<text x="56.00" y="844.49" font-size="7.2" fill="#3a3a3a" stroke="#3a3a3a" stroke-width="0.2" text-anchor="end" textLength="11.3" lengthAdjust="spacingAndGlyphs">0.0</text>
<line x1="57.10" y1="821.70" x2="59.50" y2="821.70" stroke="#555" stroke-width="1.0"/>
<text x="56.00" y="824.99" font-size="7.2" fill="#3a3a3a" stroke="#3a3a3a" stroke-width="0.2" text-anchor="end" textLength="11.3" lengthAdjust="spacingAndGlyphs">0.2</text>
<line x1="57.10" y1="802.20" x2="59.50" y2="802.20" stroke="#555" stroke-width="1.0"/>
<text x="56.00" y="805.49" font-size="7.2" fill="#3a3a3a" stroke="#3a3a3a" stroke-width="0.2" text-anchor="end" textLength="11.3" lengthAdjust="spacingAndGlyphs">0.4</text>
<line x1="57.10" y1="782.70" x2="59.50" y2="782.70" stroke="#555" stroke-width="1.0"/>
<text x="56.00" y="785.99" font-size="7.2" fill="#3a3a3a" stroke="#3a3a3a" stroke-width="0.2" text-anchor="end" textLength="11.3" lengthAdjust="spacingAndGlyphs">0.6</text>
<line x1="57.10" y1="763.20" x2="59.50" y2="763.20" stroke="#555" stroke-width="1.0"/>
<text x="56.00" y="766.49" font-size="7.2" fill="#3a3a3a" stroke="#3a3a3a" stroke-width="0.2" text-anchor="end" textLength="11.3" lengthAdjust="spacingAndGlyphs">0.8</text>
<line x1="57.10" y1="743.70" x2="59.50" y2="743.70" stroke="#555" stroke-width="1.0"/>
<text x="56.00" y="746.99" font-size="7.2" fill="#3a3a3a" stroke="#3a3a3a" stroke-width="0.2" text-anchor="end" textLength="11.3" lengthAdjust="spacingAndGlyphs">1.0</text>
<line x1="71.10" y1="845.60" x2="71.10" y2="848.00" stroke="#555" stroke-width="1.0"/>
<text x="71.10" y="855.30" font-size="7.2" fill="#3a3a3a" stroke="#3a3a3a" stroke-width="0.2" text-anchor="middle" textLength="4.5" lengthAdjust="spacingAndGlyphs">0</text>
<line x1="160.65" y1="845.60" x2="160.65" y2="848.00" stroke="#555" stroke-width="1.0"/>
<text x="160.65" y="855.30" font-size="7.2" fill="#3a3a3a" stroke="#3a3a3a" stroke-width="0.2" text-anchor="middle" textLength="4.5" lengthAdjust="spacingAndGlyphs">6</text>
<line x1="250.20" y1="845.60" x2="250.20" y2="848.00" stroke="#555" stroke-width="1.0"/>
<text x="250.20" y="855.30" font-size="7.2" fill="#3a3a3a" stroke="#3a3a3a" stroke-width="0.2" text-anchor="middle" textLength="9.0" lengthAdjust="spacingAndGlyphs">12</text>
<text transform="translate(26.55,791.90) scale(1.1,1) rotate(-90)" x="0" y="0" font-size="8.6" fill="#222" text-anchor="middle" textLength="89.3" lengthAdjust="spacingAndGlyphs">Time to Next Treatment</text>
<text x="190.20" y="864.70" font-size="8.7" fill="#222" stroke="#222" stroke-width="0.2" text-anchor="middle" textLength="74.4" lengthAdjust="spacingAndGlyphs">Months from TDXd</text>
<rect x="198.30" y="743.10" width="104.50" height="39.00" fill="#c3c3c3"/>
<text x="250.55" y="751.60" font-size="6.6" fill="#2a2a2a" text-anchor="middle" textLength="41.4" lengthAdjust="spacingAndGlyphs">Median TTNT</text>
<text x="250.55" y="761.20" font-size="6.6" fill="#2a2a2a" text-anchor="middle" textLength="79.5" lengthAdjust="spacingAndGlyphs">Luminal Low = 2.7 months</text>
<text x="250.55" y="770.80" font-size="6.6" fill="#2a2a2a" text-anchor="middle" textLength="91.2" lengthAdjust="spacingAndGlyphs">Luminal Medium = 3.1 months</text>
<text x="250.55" y="780.00" font-size="6.6" fill="#2a2a2a" text-anchor="middle" textLength="81.0" lengthAdjust="spacingAndGlyphs">Luminal High = 8.4 months</text>
<text x="70.30" y="834.30" font-size="6.4" fill="#2e2e2e" stroke="#2e2e2e" stroke-width="0.1" textLength="48.5" lengthAdjust="spacingAndGlyphs">Log Rank = 0.017</text>
<path d="M102.7,743.7 V763.2 H107.2 V782.7 H111.1 V802.2 H113.3 V821.7 H167.8 V841.2" fill="none" stroke="#3d86d6" stroke-width="1.1" stroke-linejoin="miter" stroke-linecap="butt"/>
<path d="M92.7,743.7 H102.5 V776.2 H117.1 V808.7 H122.2 V841.2" fill="none" stroke="#e7c42e" stroke-width="1.1" stroke-linejoin="miter" stroke-linecap="butt"/>
<path d="M71.1,743.7 H92.7 V755.9 H125.7 V768.1 H148.9 V780.3 H195.5 V792.5 H198.3 V804.8 H242.6 V817 H273.2 V829.2 H306.7 V841.2" fill="none" stroke="#888888" stroke-width="1.1" stroke-linejoin="miter" stroke-linecap="butt"/>
<text x="58.70" y="879.60" font-size="6.5" fill="#222" stroke="#222" stroke-width="0.2" textLength="109.4" lengthAdjust="spacingAndGlyphs">Number at risk (number censored)</text>
<text x="55.10" y="893.30" font-size="7.0" fill="#3f88d4" stroke="#3f88d4" stroke-width="0.2" text-anchor="end" textLength="13.5" lengthAdjust="spacingAndGlyphs">Low</text>
<text x="71.10" y="893.30" font-size="7.0" fill="#222" stroke="#222" stroke-width="0.2" text-anchor="middle" textLength="16.4" lengthAdjust="spacingAndGlyphs">5 (0)</text>
<text x="160.65" y="893.30" font-size="7.0" fill="#222" stroke="#222" stroke-width="0.2" text-anchor="middle" textLength="16.4" lengthAdjust="spacingAndGlyphs">1 (0)</text>
<text x="250.20" y="893.30" font-size="7.0" fill="#222" stroke="#222" stroke-width="0.2" text-anchor="middle" textLength="16.4" lengthAdjust="spacingAndGlyphs">0 (0)</text>
<text x="55.10" y="903.80" font-size="7.0" fill="#dcbd2c" stroke="#dcbd2c" stroke-width="0.2" text-anchor="end" textLength="26.1" lengthAdjust="spacingAndGlyphs">Medium</text>
<text x="71.10" y="903.80" font-size="7.0" fill="#222" stroke="#222" stroke-width="0.2" text-anchor="middle" textLength="16.4" lengthAdjust="spacingAndGlyphs">3 (0)</text>
<text x="160.65" y="903.80" font-size="7.0" fill="#222" stroke="#222" stroke-width="0.2" text-anchor="middle" textLength="16.4" lengthAdjust="spacingAndGlyphs">0 (0)</text>
<text x="250.20" y="903.80" font-size="7.0" fill="#222" stroke="#222" stroke-width="0.2" text-anchor="middle" textLength="16.4" lengthAdjust="spacingAndGlyphs">0 (0)</text>
<text x="55.10" y="914.50" font-size="7.0" fill="#9c9c9c" stroke="#9c9c9c" stroke-width="0.2" text-anchor="end" textLength="15.1" lengthAdjust="spacingAndGlyphs">High</text>
<text x="71.10" y="914.50" font-size="7.0" fill="#222" stroke="#222" stroke-width="0.2" text-anchor="middle" textLength="16.4" lengthAdjust="spacingAndGlyphs">8 (0)</text>
<text x="160.65" y="914.50" font-size="7.0" fill="#222" stroke="#222" stroke-width="0.2" text-anchor="middle" textLength="16.4" lengthAdjust="spacingAndGlyphs">5 (0)</text>
<text x="250.20" y="914.50" font-size="7.0" fill="#222" stroke="#222" stroke-width="0.2" text-anchor="middle" textLength="16.4" lengthAdjust="spacingAndGlyphs">2 (0)</text>
<text x="357.60" y="707.40" font-size="14" fill="#111">G – TTNT by HER2 IHC subtypes</text>
<line x1="475.30" y1="724.50" x2="482.70" y2="724.50" stroke="#3d86d6" stroke-width="1.6" opacity="0.7"/>
<text x="487.00" y="726.80" font-size="6.6" fill="#444" stroke="#444" stroke-width="0.2" textLength="29.0" lengthAdjust="spacingAndGlyphs">HER2 Zero</text>
<line x1="520.00" y1="724.50" x2="527.90" y2="724.50" stroke="#e7c42e" stroke-width="1.6" opacity="0.7"/>
<text x="531.90" y="726.80" font-size="6.6" fill="#444" stroke="#444" stroke-width="0.2" textLength="28.1" lengthAdjust="spacingAndGlyphs">HER2 Low</text>
<line x1="564.10" y1="724.50" x2="572.10" y2="724.50" stroke="#888888" stroke-width="1.6" opacity="0.7"/>
<text x="576.30" y="726.80" font-size="6.6" fill="#444" stroke="#444" stroke-width="0.2" textLength="37.8" lengthAdjust="spacingAndGlyphs">HER2 Positive</text>
<line x1="424.50" y1="739.60" x2="424.50" y2="846.10" stroke="#666666" stroke-width="1.0"/>
<line x1="424.00" y1="845.60" x2="660.80" y2="845.60" stroke="#666666" stroke-width="1.0"/>
<line x1="422.10" y1="841.60" x2="424.50" y2="841.60" stroke="#555" stroke-width="1.0"/>
<text x="421.20" y="844.96" font-size="7.4" fill="#3a3a3a" stroke="#3a3a3a" stroke-width="0.2" text-anchor="end" textLength="11.0" lengthAdjust="spacingAndGlyphs">0.0</text>
<line x1="422.10" y1="822.26" x2="424.50" y2="822.26" stroke="#555" stroke-width="1.0"/>
<text x="421.20" y="825.62" font-size="7.4" fill="#3a3a3a" stroke="#3a3a3a" stroke-width="0.2" text-anchor="end" textLength="11.0" lengthAdjust="spacingAndGlyphs">0.2</text>
<line x1="422.10" y1="802.92" x2="424.50" y2="802.92" stroke="#555" stroke-width="1.0"/>
<text x="421.20" y="806.28" font-size="7.4" fill="#3a3a3a" stroke="#3a3a3a" stroke-width="0.2" text-anchor="end" textLength="11.0" lengthAdjust="spacingAndGlyphs">0.4</text>
<line x1="422.10" y1="783.58" x2="424.50" y2="783.58" stroke="#555" stroke-width="1.0"/>
<text x="421.20" y="786.94" font-size="7.4" fill="#3a3a3a" stroke="#3a3a3a" stroke-width="0.2" text-anchor="end" textLength="11.0" lengthAdjust="spacingAndGlyphs">0.6</text>
<line x1="422.10" y1="764.24" x2="424.50" y2="764.24" stroke="#555" stroke-width="1.0"/>
<text x="421.20" y="767.60" font-size="7.4" fill="#3a3a3a" stroke="#3a3a3a" stroke-width="0.2" text-anchor="end" textLength="11.0" lengthAdjust="spacingAndGlyphs">0.8</text>
<line x1="422.10" y1="744.90" x2="424.50" y2="744.90" stroke="#555" stroke-width="1.0"/>
<text x="421.20" y="748.26" font-size="7.4" fill="#3a3a3a" stroke="#3a3a3a" stroke-width="0.2" text-anchor="end" textLength="11.0" lengthAdjust="spacingAndGlyphs">1.0</text>
<line x1="434.40" y1="845.60" x2="434.40" y2="848.00" stroke="#555" stroke-width="1.0"/>
<text x="434.40" y="855.60" font-size="7.4" fill="#3a3a3a" stroke="#3a3a3a" stroke-width="0.2" text-anchor="middle" textLength="4.4" lengthAdjust="spacingAndGlyphs">0</text>
<line x1="477.48" y1="845.60" x2="477.48" y2="848.00" stroke="#555" stroke-width="1.0"/>
<text x="477.48" y="855.60" font-size="7.4" fill="#3a3a3a" stroke="#3a3a3a" stroke-width="0.2" text-anchor="middle" textLength="4.4" lengthAdjust="spacingAndGlyphs">6</text>
<line x1="520.56" y1="845.60" x2="520.56" y2="848.00" stroke="#555" stroke-width="1.0"/>
<text x="520.56" y="855.60" font-size="7.4" fill="#3a3a3a" stroke="#3a3a3a" stroke-width="0.2" text-anchor="middle" textLength="8.8" lengthAdjust="spacingAndGlyphs">12</text>
<line x1="563.64" y1="845.60" x2="563.64" y2="848.00" stroke="#555" stroke-width="1.0"/>
<text x="563.64" y="855.60" font-size="7.4" fill="#3a3a3a" stroke="#3a3a3a" stroke-width="0.2" text-anchor="middle" textLength="8.8" lengthAdjust="spacingAndGlyphs">18</text>
<line x1="606.72" y1="845.60" x2="606.72" y2="848.00" stroke="#555" stroke-width="1.0"/>
<text x="606.72" y="855.60" font-size="7.4" fill="#3a3a3a" stroke="#3a3a3a" stroke-width="0.2" text-anchor="middle" textLength="8.8" lengthAdjust="spacingAndGlyphs">24</text>
<line x1="649.80" y1="845.60" x2="649.80" y2="848.00" stroke="#555" stroke-width="1.0"/>
<text x="649.80" y="855.60" font-size="7.4" fill="#3a3a3a" stroke="#3a3a3a" stroke-width="0.2" text-anchor="middle" textLength="8.8" lengthAdjust="spacingAndGlyphs">30</text>
<text transform="translate(371.81,792.70) scale(1.1,1) rotate(-90)" x="0" y="0" font-size="8.5" fill="#222" text-anchor="middle" textLength="88.5" lengthAdjust="spacingAndGlyphs">Time to Next Treatment</text>
<text x="542.60" y="864.70" font-size="8.7" fill="#222" stroke="#222" stroke-width="0.2" text-anchor="middle" textLength="72.2" lengthAdjust="spacingAndGlyphs">Months from TDXd</text>
<rect x="556.40" y="744.30" width="100.50" height="38.50" fill="#c3c3c3"/>
<text x="606.65" y="752.30" font-size="6.6" fill="#2a2a2a" text-anchor="middle" textLength="40.7" lengthAdjust="spacingAndGlyphs">Median TTNT</text>
<text x="606.65" y="762.30" font-size="6.6" fill="#2a2a2a" text-anchor="middle" textLength="74.0" lengthAdjust="spacingAndGlyphs">HER2 Zero = 2.8 months</text>
<text x="606.65" y="771.70" font-size="6.6" fill="#2a2a2a" text-anchor="middle" textLength="72.6" lengthAdjust="spacingAndGlyphs">HER2 Low = 7.4 months</text>
<text x="606.65" y="780.90" font-size="6.6" fill="#2a2a2a" text-anchor="middle" textLength="83.7" lengthAdjust="spacingAndGlyphs">HER2 Positive = 5.8 months</text>
<text x="434.90" y="839.30" font-size="6.3" fill="#2e2e2e" stroke="#2e2e2e" stroke-width="0.1" textLength="46.5" lengthAdjust="spacingAndGlyphs">Log Rank = 0.007</text>
<path d="M445.8,744.9 H450.2 V769.1 H453 V781.2 H454.5 V793.2 H455.7 V805.3 H457.2 V817.4 H461.1 V829.5 H495.7 V841.6" fill="none" stroke="#3d86d6" stroke-width="1.1" stroke-linejoin="miter" stroke-linecap="butt"/>
<path d="M445.5,744.9 V757 H459.5 V769.1 H472.2 V781.2 H481.5 V793.2 H494.4 V805.3 H517.1 V817.4 H531.1 V829.5 H547.7 V841.6" fill="none" stroke="#e7c42e" stroke-width="1.1" stroke-linejoin="miter" stroke-linecap="butt"/>
<path d="M434.4,744.9 H445.8 V748.8 H449.6 V752.6 H455.4 V756.5 H457.6 V764.2 H465.9 V768.1 H468.1 V779.7 H470.4 V783.6 H472.7 V791.3 H476.5 V802.9 H484.8 V806.8 H487 V810.7 H490.8 V818.4 H511.5 V822.3 H518 V826.1 H529.7 V830 H605.3 V833.9 H614.4 V837.7 H660.8" fill="none" stroke="#888888" stroke-width="1.1" stroke-linejoin="miter" stroke-linecap="butt"/>
<text x="423.90" y="879.40" font-size="6.8" fill="#222" stroke="#222" stroke-width="0.2" textLength="107.4" lengthAdjust="spacingAndGlyphs">Number at risk (number censored)</text>
<text x="420.00" y="893.00" font-size="7.0" fill="#3f88d4" stroke="#3f88d4" stroke-width="0.2" text-anchor="end" textLength="35.0" lengthAdjust="spacingAndGlyphs">HER2 Zero</text>
<text x="434.40" y="893.00" font-size="7.0" fill="#222" stroke="#222" stroke-width="0.2" text-anchor="middle" textLength="15.8" lengthAdjust="spacingAndGlyphs">8 (0)</text>
<text x="477.48" y="893.00" font-size="7.0" fill="#222" stroke="#222" stroke-width="0.2" text-anchor="middle" textLength="15.8" lengthAdjust="spacingAndGlyphs">1 (0)</text>
<text x="520.56" y="893.00" font-size="7.0" fill="#222" stroke="#222" stroke-width="0.2" text-anchor="middle" textLength="15.8" lengthAdjust="spacingAndGlyphs">0 (0)</text>
<text x="563.64" y="893.00" font-size="7.0" fill="#222" stroke="#222" stroke-width="0.2" text-anchor="middle" textLength="15.8" lengthAdjust="spacingAndGlyphs">0 (0)</text>
<text x="606.72" y="893.00" font-size="7.0" fill="#222" stroke="#222" stroke-width="0.2" text-anchor="middle" textLength="15.8" lengthAdjust="spacingAndGlyphs">0 (0)</text>
<text x="649.80" y="893.00" font-size="7.0" fill="#222" stroke="#222" stroke-width="0.2" text-anchor="middle" textLength="15.8" lengthAdjust="spacingAndGlyphs">0 (0)</text>
<text x="420.00" y="903.70" font-size="7.0" fill="#dcbd2c" stroke="#dcbd2c" stroke-width="0.2" text-anchor="end" textLength="33.5" lengthAdjust="spacingAndGlyphs">HER2 Low</text>
<text x="434.40" y="903.70" font-size="7.0" fill="#222" stroke="#222" stroke-width="0.2" text-anchor="middle" textLength="15.8" lengthAdjust="spacingAndGlyphs">8 (0)</text>
<text x="477.48" y="903.70" font-size="7.0" fill="#222" stroke="#222" stroke-width="0.2" text-anchor="middle" textLength="15.8" lengthAdjust="spacingAndGlyphs">5 (0)</text>
<text x="520.56" y="903.70" font-size="7.0" fill="#222" stroke="#222" stroke-width="0.2" text-anchor="middle" textLength="15.8" lengthAdjust="spacingAndGlyphs">2 (0)</text>
<text x="563.64" y="903.70" font-size="7.0" fill="#222" stroke="#222" stroke-width="0.2" text-anchor="middle" textLength="15.8" lengthAdjust="spacingAndGlyphs">0 (0)</text>
<text x="606.72" y="903.70" font-size="7.0" fill="#222" stroke="#222" stroke-width="0.2" text-anchor="middle" textLength="15.8" lengthAdjust="spacingAndGlyphs">0 (0)</text>
<text x="649.80" y="903.70" font-size="7.0" fill="#222" stroke="#222" stroke-width="0.2" text-anchor="middle" textLength="15.8" lengthAdjust="spacingAndGlyphs">0 (0)</text>
<text x="420.00" y="914.10" font-size="7.0" fill="#9c9c9c" stroke="#9c9c9c" stroke-width="0.2" text-anchor="end" textLength="45.1" lengthAdjust="spacingAndGlyphs">HER2 Positive</text>
<text x="434.40" y="914.10" font-size="7.0" fill="#222" stroke="#222" stroke-width="0.2" text-anchor="middle" textLength="20.1" lengthAdjust="spacingAndGlyphs">25 (0)</text>
<text x="477.48" y="914.10" font-size="7.0" fill="#222" stroke="#222" stroke-width="0.2" text-anchor="middle" textLength="20.1" lengthAdjust="spacingAndGlyphs">10 (0)</text>
<text x="520.56" y="914.10" font-size="7.0" fill="#222" stroke="#222" stroke-width="0.2" text-anchor="middle" textLength="15.8" lengthAdjust="spacingAndGlyphs">4 (0)</text>
<text x="563.64" y="914.10" font-size="7.0" fill="#222" stroke="#222" stroke-width="0.2" text-anchor="middle" textLength="15.8" lengthAdjust="spacingAndGlyphs">3 (0)</text>
<text x="606.72" y="914.10" font-size="7.0" fill="#222" stroke="#222" stroke-width="0.2" text-anchor="middle" textLength="15.8" lengthAdjust="spacingAndGlyphs">2 (0)</text>
<text x="649.80" y="914.10" font-size="7.0" fill="#222" stroke="#222" stroke-width="0.2" text-anchor="middle" textLength="15.8" lengthAdjust="spacingAndGlyphs">1 (0)</text>
</svg>
</body></html>
